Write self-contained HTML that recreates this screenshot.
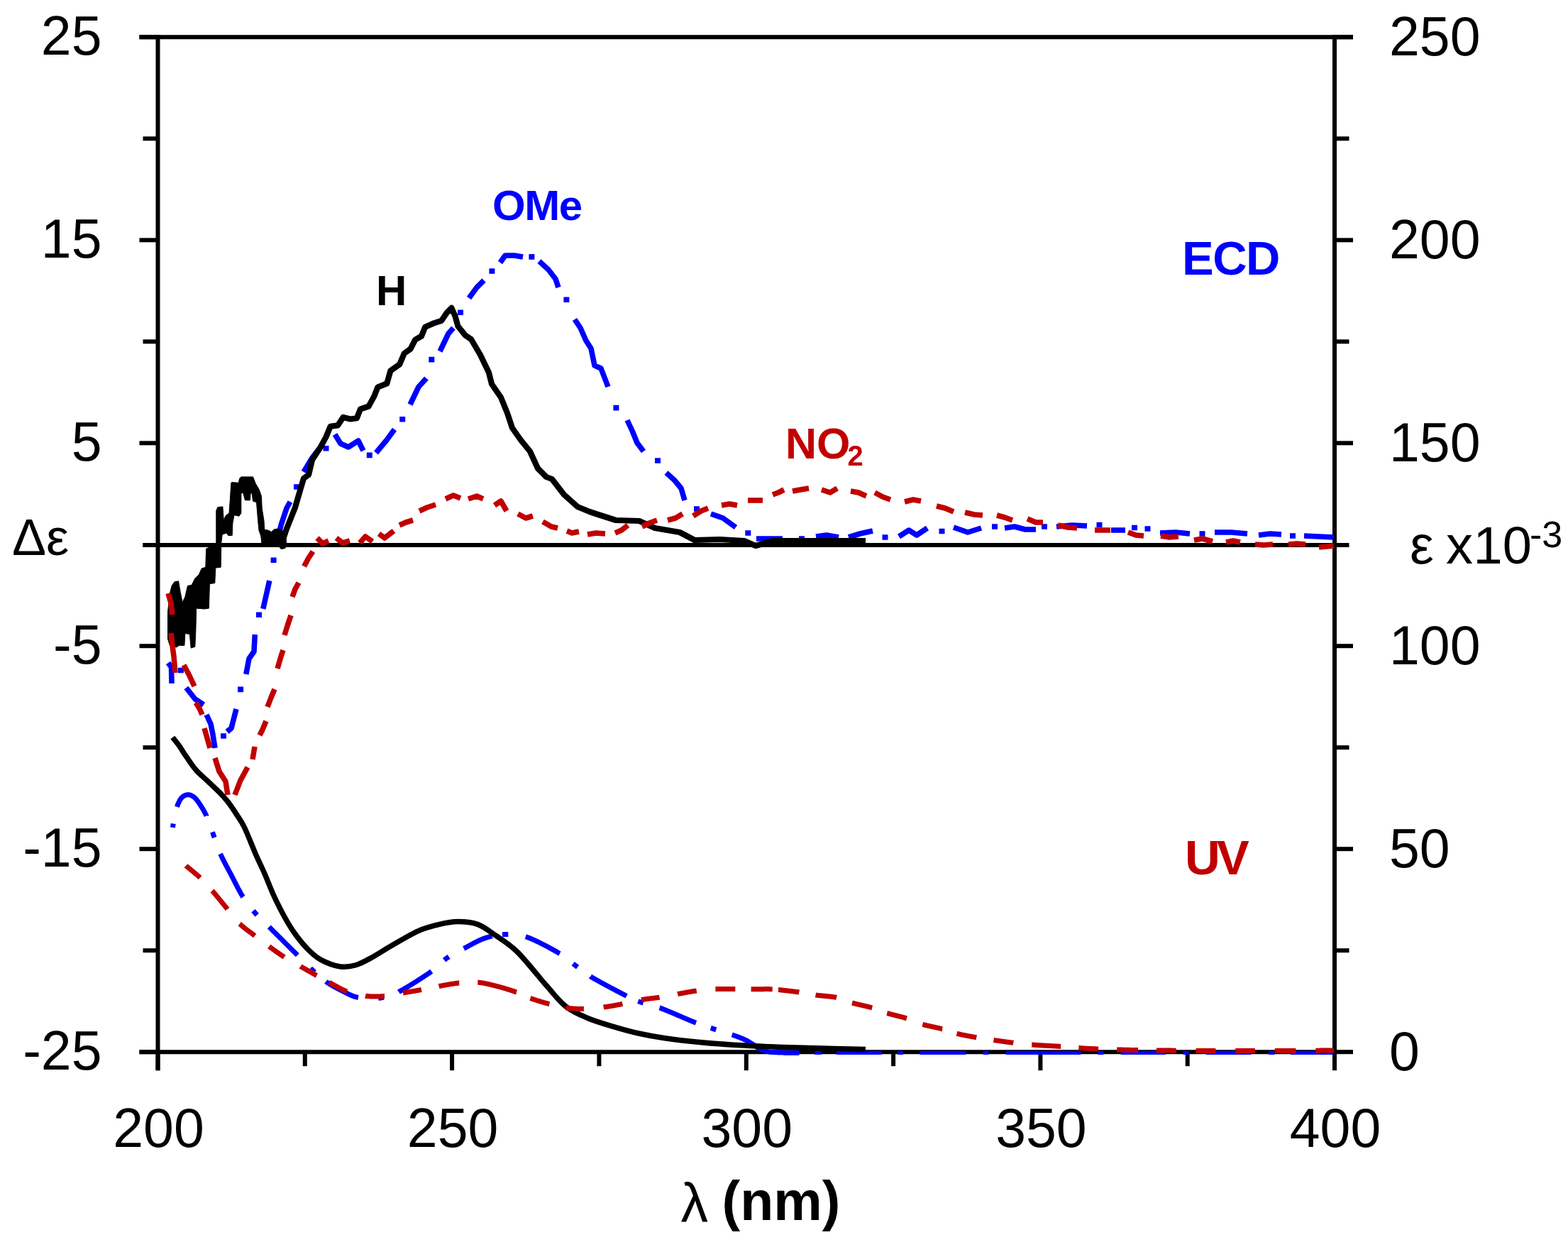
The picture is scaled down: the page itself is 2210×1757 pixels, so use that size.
<!DOCTYPE html>
<html><head><meta charset="utf-8"><style>
html,body{margin:0;padding:0;background:#fff;width:2210px;height:1757px;overflow:hidden}
svg{display:block;filter:blur(0.6px)}
</style></head><body>
<svg width="2210" height="1757" viewBox="0 0 2210 1757">
<rect width="2210" height="1757" fill="#fff"/>
<line x1="201.5" y1="768.0" x2="1881.0" y2="768.0" stroke="#000" stroke-width="5.9"/>
<line x1="222.5" y1="49.3" x2="222.5" y2="1508.2" stroke="#000" stroke-width="6.0"/>
<line x1="1881.0" y1="49.3" x2="1881.0" y2="1485.2" stroke="#000" stroke-width="6.0"/>
<line x1="196.5" y1="52.3" x2="1907.0" y2="52.3" stroke="#000" stroke-width="6.0"/>
<line x1="196.5" y1="1482.2" x2="1884.0" y2="1482.2" stroke="#000" stroke-width="6.0"/>
<line x1="196.5" y1="52.3" x2="222.5" y2="52.3" stroke="#000" stroke-width="6.0"/>
<line x1="1881.0" y1="52.3" x2="1907.0" y2="52.3" stroke="#000" stroke-width="6.0"/>
<line x1="201.5" y1="195.3" x2="222.5" y2="195.3" stroke="#000" stroke-width="6.0"/>
<line x1="1881.0" y1="195.3" x2="1901.5" y2="195.3" stroke="#000" stroke-width="6.0"/>
<line x1="196.5" y1="338.3" x2="222.5" y2="338.3" stroke="#000" stroke-width="6.0"/>
<line x1="1881.0" y1="338.3" x2="1907.0" y2="338.3" stroke="#000" stroke-width="6.0"/>
<line x1="201.5" y1="481.3" x2="222.5" y2="481.3" stroke="#000" stroke-width="6.0"/>
<line x1="1881.0" y1="481.3" x2="1901.5" y2="481.3" stroke="#000" stroke-width="6.0"/>
<line x1="196.5" y1="624.3" x2="222.5" y2="624.3" stroke="#000" stroke-width="6.0"/>
<line x1="1881.0" y1="624.3" x2="1907.0" y2="624.3" stroke="#000" stroke-width="6.0"/>
<line x1="201.5" y1="768.0" x2="222.5" y2="768.0" stroke="#000" stroke-width="6.0"/>
<line x1="1881.0" y1="768.0" x2="1901.5" y2="768.0" stroke="#000" stroke-width="6.0"/>
<line x1="196.5" y1="910.2" x2="222.5" y2="910.2" stroke="#000" stroke-width="6.0"/>
<line x1="1881.0" y1="910.2" x2="1907.0" y2="910.2" stroke="#000" stroke-width="6.0"/>
<line x1="201.5" y1="1053.2" x2="222.5" y2="1053.2" stroke="#000" stroke-width="6.0"/>
<line x1="1881.0" y1="1053.2" x2="1901.5" y2="1053.2" stroke="#000" stroke-width="6.0"/>
<line x1="196.5" y1="1196.2" x2="222.5" y2="1196.2" stroke="#000" stroke-width="6.0"/>
<line x1="1881.0" y1="1196.2" x2="1907.0" y2="1196.2" stroke="#000" stroke-width="6.0"/>
<line x1="201.5" y1="1339.2" x2="222.5" y2="1339.2" stroke="#000" stroke-width="6.0"/>
<line x1="1881.0" y1="1339.2" x2="1901.5" y2="1339.2" stroke="#000" stroke-width="6.0"/>
<line x1="196.5" y1="1482.2" x2="222.5" y2="1482.2" stroke="#000" stroke-width="6.0"/>
<line x1="1881.0" y1="1482.2" x2="1907.0" y2="1482.2" stroke="#000" stroke-width="6.0"/>
<line x1="222.5" y1="1482.2" x2="222.5" y2="1508.2" stroke="#000" stroke-width="6.0"/>
<line x1="429.8" y1="1482.2" x2="429.8" y2="1502.2" stroke="#000" stroke-width="6.0"/>
<line x1="637.1" y1="1482.2" x2="637.1" y2="1508.2" stroke="#000" stroke-width="6.0"/>
<line x1="844.4" y1="1482.2" x2="844.4" y2="1502.2" stroke="#000" stroke-width="6.0"/>
<line x1="1051.8" y1="1482.2" x2="1051.8" y2="1508.2" stroke="#000" stroke-width="6.0"/>
<line x1="1259.1" y1="1482.2" x2="1259.1" y2="1502.2" stroke="#000" stroke-width="6.0"/>
<line x1="1466.4" y1="1482.2" x2="1466.4" y2="1508.2" stroke="#000" stroke-width="6.0"/>
<line x1="1673.7" y1="1482.2" x2="1673.7" y2="1502.2" stroke="#000" stroke-width="6.0"/>
<line x1="1881.0" y1="1482.2" x2="1881.0" y2="1508.2" stroke="#000" stroke-width="6.0"/>
<path d="M243.4 1166.0 L243.6 1164.7 L244.2 1160.6 M249.5 1136.8 L249.6 1136.5 L249.7 1136.1 L249.9 1135.7 L250.0 1135.2 L250.2 1134.8 L250.3 1134.4 L250.5 1134.0 L250.7 1133.4 L251.0 1132.8 L251.2 1132.3 L251.4 1131.7 L251.7 1131.2 L251.9 1130.7 L252.1 1130.2 L252.4 1129.7 L252.6 1129.2 L252.8 1128.7 L253.1 1128.2 L253.3 1127.8 L253.6 1127.4 L253.8 1126.9 L254.1 1126.5 L254.4 1126.1 L254.6 1125.7 L254.9 1125.4 L255.2 1125.0 L255.4 1124.7 L255.7 1124.3 L256.0 1124.0 L256.4 1123.6 L256.8 1123.2 L257.2 1122.8 L257.6 1122.5 L258.1 1122.1 L258.5 1121.8 L259.0 1121.6 L259.4 1121.3 L259.9 1121.1 L260.3 1120.9 L260.8 1120.7 L261.2 1120.5 L261.7 1120.4 L262.1 1120.2 L262.6 1120.1 L263.0 1120.0 L263.5 1119.9 L264.0 1119.8 L264.5 1119.8 L265.0 1119.7 L265.5 1119.7 L265.9 1119.8 L266.4 1119.8 L266.9 1119.9 L267.4 1120.0 L267.9 1120.1 L268.4 1120.3 L268.9 1120.5 L269.5 1120.7 L270.0 1121.0 L270.4 1121.2 L270.7 1121.4 L271.1 1121.6 L271.4 1121.8 L271.7 1122.0 L272.1 1122.2 L272.4 1122.4 L272.8 1122.6 L273.1 1122.9 L273.5 1123.1 L273.8 1123.4 L274.2 1123.7 L274.6 1124.1 L275.0 1124.4 L275.3 1124.8 L275.8 1125.3 L276.2 1125.7 L276.6 1126.2 L277.1 1126.8 L277.5 1127.4 L278.0 1128.0 L278.2 1128.3 L278.4 1128.6 L278.7 1128.9 L278.9 1129.2 L279.1 1129.6 L279.4 1129.9 L279.6 1130.2 L279.9 1130.6 L280.1 1130.9 L280.4 1131.3 L280.6 1131.7 L280.9 1132.1 L281.2 1132.4 L281.4 1132.8 L281.7 1133.2 L282.0 1133.6 L282.2 1134.1 L282.5 1134.5 L282.8 1134.9 L283.1 1135.3 L283.3 1135.8 L283.6 1136.2 L283.9 1136.6 L284.2 1137.1 L284.5 1137.5 L284.7 1138.0 L285.0 1138.5 L285.3 1138.9 L285.6 1139.4 L285.9 1139.9 L286.1 1140.3 L286.4 1140.8 L286.7 1141.3 L287.0 1141.8 L287.3 1142.3 L287.5 1142.8 L287.8 1143.2 L288.1 1143.7 L288.3 1144.2 L288.6 1144.7 L288.9 1145.2 L289.1 1145.7 L289.4 1146.2 L289.6 1146.7 L289.9 1147.2 L290.1 1147.7 L290.4 1148.2 L290.6 1148.7 L290.8 1149.1 L291.0 1149.5 L291.0 1149.6 M299.4 1172.4 L300.8 1176.3 L302.1 1180.1 M310.6 1203.0 L310.6 1203.0 L310.8 1203.4 L311.0 1203.9 L311.2 1204.3 L311.4 1204.7 L311.6 1205.1 L311.8 1205.6 L312.0 1206.0 L312.2 1206.5 L312.4 1206.9 L312.6 1207.3 L312.8 1207.8 L313.0 1208.2 L313.2 1208.6 L313.5 1209.1 L313.7 1209.5 L313.9 1210.0 L314.1 1210.4 L314.3 1210.9 L314.6 1211.3 L314.8 1211.7 L315.0 1212.2 L315.2 1212.6 L315.5 1213.1 L315.7 1213.5 L315.9 1214.0 L316.2 1214.4 L316.4 1214.9 L316.6 1215.3 L316.9 1215.8 L317.1 1216.2 L317.3 1216.7 L317.6 1217.1 L317.8 1217.6 L318.0 1218.1 L318.3 1218.5 L318.5 1219.0 L318.8 1219.4 L319.0 1219.9 L319.2 1220.3 L319.5 1220.8 L319.7 1221.2 L320.0 1221.7 L320.2 1222.1 L320.5 1222.6 L320.7 1223.0 L320.9 1223.5 L321.2 1224.0 L321.4 1224.4 L321.7 1224.9 L321.9 1225.3 L322.2 1225.8 L322.4 1226.2 L322.6 1226.7 L322.9 1227.1 L323.1 1227.6 L323.4 1228.0 L323.6 1228.5 L323.9 1228.9 L324.1 1229.4 L324.3 1229.9 L324.6 1230.3 L324.8 1230.8 L325.1 1231.2 L325.3 1231.7 L325.5 1232.1 L325.8 1232.6 L326.0 1233.0 L326.2 1233.4 L326.5 1233.9 L326.7 1234.3 L326.9 1234.8 L327.2 1235.2 L327.4 1235.7 L327.6 1236.1 L327.8 1236.6 L328.1 1237.0 L328.3 1237.5 L328.5 1237.9 L328.8 1238.4 L329.0 1238.8 L329.2 1239.3 L329.5 1239.8 L329.7 1240.2 L329.9 1240.7 L330.2 1241.1 L330.4 1241.6 L330.6 1242.0 L330.9 1242.5 L331.1 1243.0 L331.3 1243.4 L331.6 1243.9 L331.8 1244.3 L332.0 1244.8 L332.3 1245.2 L332.5 1245.7 L332.7 1246.2 L333.0 1246.6 L333.2 1247.1 L333.4 1247.5 L333.7 1248.0 L333.9 1248.4 L334.1 1248.9 L334.4 1249.4 L334.6 1249.8 L334.8 1250.3 L335.1 1250.7 L335.3 1251.2 L335.5 1251.6 L335.8 1252.0 L336.0 1252.5 L336.2 1252.9 L336.5 1253.4 L336.7 1253.8 L337.0 1254.3 L337.2 1254.7 L337.4 1255.1 L337.7 1255.6 L337.9 1256.0 L338.1 1256.4 L338.4 1256.9 L338.6 1257.3 L338.9 1257.7 L339.1 1258.1 L339.3 1258.6 L339.6 1259.0 L339.8 1259.4 L340.1 1259.8 L340.3 1260.2 L340.5 1260.6 L340.8 1261.0 L341.0 1261.4 L341.3 1261.8 L341.5 1262.2 L341.8 1262.6 L342.0 1263.0 L342.3 1263.5 L342.6 1263.9 L342.6 1263.9 M356.9 1283.3 L359.6 1286.4 L362.3 1289.4 M379.2 1305.9 L379.2 1305.9 L379.5 1306.2 L379.7 1306.4 L380.0 1306.7 L380.3 1307.0 L380.6 1307.3 L380.9 1307.6 L381.2 1307.9 L381.5 1308.2 L381.8 1308.5 L382.1 1308.8 L382.4 1309.1 L382.7 1309.4 L383.0 1309.7 L383.3 1310.0 L383.7 1310.4 L384.0 1310.7 L384.3 1311.0 L384.7 1311.4 L385.0 1311.7 L385.4 1312.0 L385.7 1312.4 L386.0 1312.7 L386.4 1313.1 L386.7 1313.4 L387.1 1313.8 L387.5 1314.1 L387.8 1314.5 L388.2 1314.9 L388.6 1315.2 L388.9 1315.6 L389.3 1316.0 L389.7 1316.3 L390.0 1316.7 L390.4 1317.1 L390.8 1317.5 L391.2 1317.9 L391.6 1318.2 L392.0 1318.6 L392.3 1319.0 L392.7 1319.4 L393.1 1319.8 L393.5 1320.2 L393.9 1320.6 L394.3 1320.9 L394.7 1321.3 L395.1 1321.7 L395.5 1322.1 L395.9 1322.5 L396.3 1322.9 L396.7 1323.3 L397.1 1323.7 L397.5 1324.1 L397.9 1324.5 L398.3 1324.9 L398.7 1325.3 L399.1 1325.7 L399.4 1326.1 L399.8 1326.5 L400.2 1326.9 L400.6 1327.3 L401.0 1327.7 L401.4 1328.1 L401.8 1328.5 L402.2 1328.9 L402.6 1329.3 L403.0 1329.7 L403.4 1330.1 L403.8 1330.5 L404.2 1330.9 L404.6 1331.2 L405.0 1331.6 L405.4 1332.0 L405.8 1332.4 L406.2 1332.8 L406.5 1333.2 L406.9 1333.6 L407.3 1333.9 L407.7 1334.3 L408.1 1334.7 L408.5 1335.1 L408.8 1335.5 L409.2 1335.8 L409.6 1336.2 L409.9 1336.6 L410.3 1336.9 L410.7 1337.3 L411.0 1337.7 L411.4 1338.0 L411.8 1338.4 L412.1 1338.7 L412.5 1339.1 L412.8 1339.4 L413.1 1339.8 L413.5 1340.1 L413.8 1340.4 L414.2 1340.8 L414.5 1341.1 L414.8 1341.4 L415.2 1341.8 L415.5 1342.1 L415.8 1342.4 L416.1 1342.7 L416.4 1343.0 L416.7 1343.3 L417.0 1343.6 L417.3 1343.9 L417.6 1344.2 L417.9 1344.5 L418.2 1344.8 L418.5 1345.1 L418.8 1345.4 L419.0 1345.6 L419.3 1345.9 L419.3 1345.9 M437.6 1364.3 L440.4 1366.9 L443.5 1369.8 M459.3 1383.0 L459.3 1383.0 L459.7 1383.3 L460.1 1383.6 L460.5 1383.9 L461.0 1384.1 L461.4 1384.4 L461.8 1384.7 L462.2 1385.0 L462.6 1385.3 L463.1 1385.5 L463.5 1385.8 L463.9 1386.1 L464.3 1386.4 L464.8 1386.6 L465.2 1386.9 L465.6 1387.2 L466.1 1387.4 L466.5 1387.7 L466.9 1387.9 L467.4 1388.2 L467.8 1388.5 L468.3 1388.7 L468.7 1389.0 L469.1 1389.2 L469.6 1389.5 L470.0 1389.7 L470.5 1390.0 L470.9 1390.2 L471.3 1390.5 L471.8 1390.7 L472.2 1391.0 L472.7 1391.2 L473.1 1391.4 L473.6 1391.7 L474.0 1391.9 L474.5 1392.2 L474.9 1392.4 L475.4 1392.6 L475.8 1392.9 L476.2 1393.1 L476.7 1393.3 L477.1 1393.6 L477.6 1393.8 L478.0 1394.0 L478.5 1394.2 L478.9 1394.5 L479.4 1394.7 L479.8 1394.9 L480.2 1395.1 L480.7 1395.3 L481.1 1395.6 L481.6 1395.8 L482.0 1396.0 L482.5 1396.2 L482.9 1396.5 L483.4 1396.7 L483.8 1396.9 L484.3 1397.2 L484.7 1397.4 L485.2 1397.6 L485.6 1397.9 L486.1 1398.1 L486.5 1398.3 L487.0 1398.5 L487.4 1398.8 L487.9 1399.0 L488.3 1399.2 L488.7 1399.5 L489.2 1399.7 L489.6 1399.9 L490.1 1400.1 L490.5 1400.4 L490.9 1400.6 L491.4 1400.8 L491.8 1401.0 L492.3 1401.2 L492.7 1401.4 L493.2 1401.6 L493.6 1401.8 L494.1 1402.0 L494.5 1402.2 L495.0 1402.4 L495.5 1402.6 L495.9 1402.8 L496.4 1403.0 L496.8 1403.2 L497.3 1403.4 L497.8 1403.5 L498.3 1403.7 L498.8 1403.9 L499.3 1404.0 L499.8 1404.2 L500.3 1404.4 L500.8 1404.5 L501.3 1404.6 L501.8 1404.8 L502.3 1404.9 L502.8 1405.0 L503.4 1405.2 L503.9 1405.3 L504.4 1405.4 L505.0 1405.5 L505.0 1405.5 M533.2 1406.4 L536.8 1406.0 L540.9 1405.3 M561.9 1397.6 L562.2 1397.4 L562.5 1397.2 L562.9 1397.0 L563.2 1396.9 L563.6 1396.7 L563.9 1396.5 L564.3 1396.3 L564.7 1396.1 L565.0 1395.9 L565.4 1395.7 L565.8 1395.5 L566.2 1395.2 L566.6 1395.0 L567.0 1394.8 L567.4 1394.6 L567.8 1394.3 L568.2 1394.1 L568.6 1393.9 L569.0 1393.6 L569.4 1393.4 L569.9 1393.1 L570.3 1392.9 L570.7 1392.6 L571.2 1392.4 L571.6 1392.1 L572.0 1391.9 L572.5 1391.6 L572.9 1391.4 L573.4 1391.1 L573.8 1390.8 L574.3 1390.6 L574.7 1390.3 L575.2 1390.0 L575.6 1389.7 L576.1 1389.4 L576.6 1389.2 L577.0 1388.9 L577.5 1388.6 L578.0 1388.3 L578.4 1388.0 L578.9 1387.7 L579.4 1387.4 L579.9 1387.2 L580.3 1386.9 L580.8 1386.6 L581.3 1386.3 L581.8 1386.0 L582.2 1385.7 L582.7 1385.4 L583.2 1385.1 L583.7 1384.8 L584.2 1384.5 L584.6 1384.2 L585.1 1383.9 L585.6 1383.6 L586.1 1383.3 L586.6 1383.0 L587.0 1382.7 L587.5 1382.4 L588.0 1382.1 L588.5 1381.8 L589.0 1381.5 L589.4 1381.1 L589.9 1380.8 L590.4 1380.5 L590.8 1380.2 L591.3 1379.9 L591.8 1379.6 L592.3 1379.3 L592.7 1379.0 L593.2 1378.7 L593.6 1378.4 L594.1 1378.1 L594.6 1377.8 L595.0 1377.5 L595.5 1377.2 L595.9 1377.0 L596.4 1376.7 L596.8 1376.4 L597.2 1376.1 L597.7 1375.8 L598.1 1375.5 L598.6 1375.2 L599.0 1374.9 L599.4 1374.6 L599.8 1374.4 L600.2 1374.1 L600.7 1373.8 L601.1 1373.5 L601.5 1373.3 L601.9 1373.0 L602.3 1372.7 L602.7 1372.5 L603.1 1372.2 L603.4 1371.9 L603.8 1371.7 L604.2 1371.4 L604.6 1371.2 L604.9 1370.9 L605.3 1370.7 L605.7 1370.4 L606.0 1370.2 L606.4 1369.9 L606.7 1369.7 L607.0 1369.5 L607.4 1369.2 L607.7 1369.0 L608.0 1368.8 L608.3 1368.6 M626.1 1352.8 L629.6 1350.1 L632.7 1348.0 M653.7 1336.5 L653.7 1336.5 L654.1 1336.3 L654.5 1336.1 L654.9 1335.8 L655.4 1335.6 L655.8 1335.4 L656.2 1335.2 L656.6 1334.9 L657.1 1334.7 L657.5 1334.5 L657.9 1334.2 L658.4 1334.0 L658.8 1333.7 L659.2 1333.5 L659.7 1333.3 L660.1 1333.0 L660.6 1332.8 L661.0 1332.5 L661.5 1332.3 L661.9 1332.0 L662.4 1331.8 L662.8 1331.6 L663.3 1331.3 L663.7 1331.1 L664.2 1330.8 L664.6 1330.6 L665.1 1330.3 L665.5 1330.1 L666.0 1329.8 L666.4 1329.6 L666.9 1329.3 L667.4 1329.1 L667.8 1328.9 L668.3 1328.6 L668.7 1328.4 L669.2 1328.1 L669.7 1327.9 L670.1 1327.7 L670.6 1327.4 L671.1 1327.2 L671.5 1327.0 L672.0 1326.7 L672.5 1326.5 L672.9 1326.3 L673.4 1326.0 L673.8 1325.8 L674.3 1325.6 L674.8 1325.4 L675.2 1325.2 L675.7 1325.0 L676.2 1324.7 L676.6 1324.5 L677.1 1324.3 L677.5 1324.1 L678.0 1323.9 L678.5 1323.7 L678.9 1323.6 L679.4 1323.4 L679.8 1323.2 L680.3 1323.0 L680.7 1322.8 L681.2 1322.6 L681.6 1322.5 L682.1 1322.3 L682.6 1322.2 L683.0 1322.0 L683.5 1321.8 L684.0 1321.7 L684.5 1321.5 L685.0 1321.3 L685.5 1321.2 L686.0 1321.0 L686.4 1320.9 L686.9 1320.7 L687.4 1320.6 L687.9 1320.4 L688.4 1320.3 L688.9 1320.1 L689.4 1320.0 L689.9 1319.9 L690.4 1319.7 L690.9 1319.6 L691.3 1319.5 L691.8 1319.4 L692.3 1319.2 L692.8 1319.1 L693.3 1319.0 L693.6 1318.9 M708.0 1316.7 L712.2 1316.5 L716.3 1316.4 M740.8 1319.7 L741.1 1319.8 L741.7 1320.0 L742.3 1320.2 L742.7 1320.3 L743.1 1320.5 L743.4 1320.6 L743.8 1320.8 L744.2 1320.9 L744.6 1321.1 L745.0 1321.2 L745.4 1321.4 L745.8 1321.5 L746.3 1321.7 L746.7 1321.9 L747.1 1322.0 L747.5 1322.2 L748.0 1322.4 L748.4 1322.6 L748.8 1322.8 L749.3 1323.0 L749.7 1323.2 L750.2 1323.3 L750.6 1323.5 L751.1 1323.7 L751.5 1324.0 L752.0 1324.2 L752.5 1324.4 L752.9 1324.6 L753.4 1324.8 L753.9 1325.0 L754.4 1325.2 L754.8 1325.5 L755.3 1325.7 L755.8 1325.9 L756.3 1326.1 L756.7 1326.4 L757.2 1326.6 L757.7 1326.8 L758.2 1327.1 L758.7 1327.3 L759.2 1327.5 L759.7 1327.8 L760.2 1328.0 L760.7 1328.3 L761.2 1328.5 L761.6 1328.7 L762.1 1329.0 L762.6 1329.2 L763.1 1329.5 L763.6 1329.7 L764.1 1330.0 L764.6 1330.2 L765.1 1330.5 L765.6 1330.8 L766.1 1331.0 L766.6 1331.3 L767.1 1331.5 L767.6 1331.8 L768.1 1332.0 L768.6 1332.3 L769.1 1332.5 L769.5 1332.8 L770.0 1333.1 L770.5 1333.3 L771.0 1333.6 L771.5 1333.8 L772.0 1334.1 L772.4 1334.3 L772.9 1334.6 L773.4 1334.8 L773.9 1335.1 L774.3 1335.4 L774.8 1335.6 L775.3 1335.9 L775.8 1336.1 L776.2 1336.4 L776.7 1336.6 L777.1 1336.9 L777.6 1337.1 L778.0 1337.4 L778.5 1337.6 L778.9 1337.9 L779.4 1338.1 L779.8 1338.3 L780.2 1338.6 L780.7 1338.8 L781.1 1339.1 L781.5 1339.3 L781.9 1339.5 L782.4 1339.8 L782.8 1340.0 L783.2 1340.2 L783.6 1340.5 L784.0 1340.7 L784.4 1340.9 L784.7 1341.1 L785.1 1341.3 L785.5 1341.6 L785.9 1341.8 L786.2 1342.0 L786.6 1342.2 L787.0 1342.4 L787.3 1342.6 L787.7 1342.8 L788.0 1343.0 L788.6 1343.4 L789.0 1343.6 M807.7 1357.7 L811.2 1360.4 L814.1 1362.6 M832.2 1375.8 L832.3 1375.9 L833.0 1376.3 L833.3 1376.5 L833.7 1376.7 L834.0 1376.9 L834.3 1377.1 L834.7 1377.3 L835.0 1377.5 L835.4 1377.7 L835.8 1377.9 L836.1 1378.1 L836.5 1378.4 L836.9 1378.6 L837.3 1378.8 L837.7 1379.0 L838.1 1379.2 L838.5 1379.5 L838.9 1379.7 L839.3 1379.9 L839.7 1380.2 L840.1 1380.4 L840.6 1380.7 L841.0 1380.9 L841.4 1381.1 L841.9 1381.4 L842.3 1381.6 L842.8 1381.9 L843.2 1382.1 L843.7 1382.4 L844.1 1382.6 L844.6 1382.9 L845.0 1383.1 L845.5 1383.4 L846.0 1383.7 L846.5 1383.9 L846.9 1384.2 L847.4 1384.4 L847.9 1384.7 L848.4 1385.0 L848.9 1385.2 L849.3 1385.5 L849.8 1385.8 L850.3 1386.0 L850.8 1386.3 L851.3 1386.6 L851.8 1386.8 L852.3 1387.1 L852.8 1387.4 L853.3 1387.7 L853.8 1387.9 L854.3 1388.2 L854.8 1388.5 L855.3 1388.7 L855.8 1389.0 L856.3 1389.3 L856.8 1389.5 L857.3 1389.8 L857.8 1390.1 L858.3 1390.4 L858.9 1390.6 L859.4 1390.9 L859.9 1391.2 L860.4 1391.4 L860.9 1391.7 L861.4 1392.0 L861.9 1392.2 L862.4 1392.5 L862.9 1392.8 L863.4 1393.0 L863.9 1393.3 L864.4 1393.6 L864.9 1393.8 L865.3 1394.1 L865.8 1394.3 L866.3 1394.6 L866.8 1394.8 L867.3 1395.1 L867.8 1395.4 L868.2 1395.6 L868.7 1395.9 L869.2 1396.1 L869.7 1396.3 L870.1 1396.6 L870.6 1396.8 L871.1 1397.1 L871.5 1397.3 L872.0 1397.6 L872.4 1397.8 L872.9 1398.0 L873.3 1398.3 L873.8 1398.5 L874.2 1398.7 L874.6 1398.9 L875.0 1399.2 L875.5 1399.4 L875.9 1399.6 L876.3 1399.8 L876.7 1400.0 L877.1 1400.2 L877.5 1400.4 L877.9 1400.6 L878.3 1400.8 L878.7 1401.0 L879.1 1401.2 L879.4 1401.4 L879.8 1401.6 L880.2 1401.8 L880.5 1402.0 L880.9 1402.2 L881.2 1402.3 L881.5 1402.5 L881.9 1402.7 L882.2 1402.8 L882.5 1403.0 L883.2 1403.4 M899.3 1410.7 L903.0 1412.0 L906.7 1413.2 M929.6 1419.9 L930.0 1420.0 L930.4 1420.1 L930.7 1420.3 L931.1 1420.4 L931.5 1420.6 L931.8 1420.7 L932.2 1420.9 L932.6 1421.0 L933.0 1421.2 L933.4 1421.3 L933.8 1421.5 L934.2 1421.6 L934.7 1421.8 L935.1 1422.0 L935.5 1422.1 L935.9 1422.3 L936.4 1422.5 L936.8 1422.7 L937.3 1422.9 L937.7 1423.0 L938.2 1423.2 L938.6 1423.4 L939.1 1423.6 L939.6 1423.8 L940.0 1424.0 L940.5 1424.2 L941.0 1424.4 L941.4 1424.6 L941.9 1424.8 L942.4 1425.0 L942.9 1425.2 L943.4 1425.4 L943.9 1425.6 L944.4 1425.8 L944.9 1426.0 L945.4 1426.2 L945.9 1426.4 L946.4 1426.6 L946.9 1426.8 L947.4 1427.1 L947.9 1427.3 L948.4 1427.5 L948.9 1427.7 L949.4 1427.9 L949.9 1428.1 L950.5 1428.4 L951.0 1428.6 L951.5 1428.8 L952.0 1429.0 L952.5 1429.2 L953.1 1429.5 L953.6 1429.7 L954.1 1429.9 L954.6 1430.1 L955.1 1430.4 L955.7 1430.6 L956.2 1430.8 L956.7 1431.0 L957.2 1431.2 L957.7 1431.5 L958.3 1431.7 L958.8 1431.9 L959.3 1432.1 L959.8 1432.3 L960.3 1432.6 L960.8 1432.8 L961.4 1433.0 L961.9 1433.2 L962.4 1433.4 L962.9 1433.7 L963.4 1433.9 L963.9 1434.1 L964.4 1434.3 L964.9 1434.5 L965.4 1434.7 L965.9 1434.9 L966.4 1435.2 L966.9 1435.4 L967.4 1435.6 L967.9 1435.8 L968.4 1436.0 L968.8 1436.2 L969.3 1436.4 L969.8 1436.6 L970.3 1436.8 L970.7 1437.0 L971.2 1437.2 L971.7 1437.4 L972.1 1437.6 L972.6 1437.8 L973.0 1437.9 L973.5 1438.1 L973.9 1438.3 L974.3 1438.5 L974.8 1438.7 L975.2 1438.9 L975.6 1439.0 L976.0 1439.2 L976.5 1439.4 L976.9 1439.5 L977.3 1439.7 L977.7 1439.9 L978.1 1440.0 L978.4 1440.2 L978.8 1440.3 L979.2 1440.5 L979.6 1440.6 L979.9 1440.8 L980.3 1440.9 L980.7 1441.1 L981.0 1441.2 L981.0 1441.2 M1001.8 1448.4 L1005.5 1449.6 L1009.3 1450.8 M1031.7 1457.9 L1032.0 1458.0 L1032.6 1458.2 L1033.2 1458.4 L1033.7 1458.6 L1034.3 1458.8 L1034.8 1459.0 L1035.4 1459.2 L1035.9 1459.4 L1036.5 1459.6 L1037.0 1459.8 L1037.5 1459.9 L1038.0 1460.1 L1038.5 1460.3 L1039.0 1460.5 L1039.5 1460.7 L1040.0 1460.9 L1040.5 1461.0 L1041.0 1461.2 L1041.4 1461.4 L1041.9 1461.6 L1042.4 1461.8 L1042.8 1461.9 L1043.3 1462.1 L1043.7 1462.3 L1044.2 1462.5 L1044.6 1462.7 L1045.0 1462.8 L1045.5 1463.0 L1045.9 1463.2 L1046.3 1463.4 L1046.8 1463.6 L1047.2 1463.7 L1047.6 1463.9 L1048.0 1464.1 L1048.4 1464.3 L1048.8 1464.5 L1049.2 1464.6 L1049.6 1464.8 L1050.0 1465.0 L1050.5 1465.3 L1051.1 1465.5 L1051.6 1465.8 L1052.1 1466.0 L1052.6 1466.3 L1053.1 1466.5 L1053.5 1466.8 L1054.0 1467.1 L1054.4 1467.3 L1054.8 1467.6 L1055.3 1467.8 L1055.7 1468.1 L1056.1 1468.3 L1056.5 1468.6 L1056.9 1468.9 L1057.3 1469.1 L1057.7 1469.4 L1058.1 1469.6 L1058.6 1469.9 L1059.0 1470.1 L1059.4 1470.4 L1059.8 1470.7 L1060.2 1470.9 L1060.7 1471.2 L1061.1 1471.5 L1061.5 1471.7 L1062.0 1472.0 L1062.4 1472.2 L1062.8 1472.5 L1063.2 1472.7 L1063.6 1473.0 L1064.0 1473.3 L1064.3 1473.5 L1064.7 1473.8 L1065.1 1474.1 L1065.4 1474.3 L1065.8 1474.6 L1066.2 1474.9 L1066.6 1475.2 L1066.9 1475.4 L1067.3 1475.7 L1067.7 1476.0 L1068.1 1476.2 L1068.5 1476.5 L1068.9 1476.8 L1069.3 1477.0 L1069.7 1477.3 L1070.2 1477.5 L1070.6 1477.8 L1071.1 1478.0 L1071.6 1478.2 L1072.1 1478.5 L1072.7 1478.7 L1073.2 1478.9 L1073.8 1479.1 L1074.4 1479.3 L1075.0 1479.5 L1075.4 1479.6 L1075.7 1479.7 L1076.1 1479.8 L1076.4 1479.9 L1076.7 1480.0 L1077.0 1480.1 L1077.2 1480.2 L1077.5 1480.3 L1077.8 1480.4 L1078.0 1480.5 L1078.3 1480.6 L1078.5 1480.7 L1078.8 1480.8 L1079.0 1480.9 L1079.3 1480.9 L1079.5 1481.0 L1079.8 1481.1 L1080.0 1481.2 L1080.3 1481.3 L1080.5 1481.3 L1080.8 1481.4 L1081.1 1481.5 L1081.4 1481.6 L1081.7 1481.6 L1082.1 1481.7 L1082.4 1481.8 L1082.8 1481.8 L1083.2 1481.9 L1083.6 1482.0 L1084.0 1482.0 L1084.5 1482.1 L1085.0 1482.1 L1085.5 1482.2 L1086.0 1482.2 L1086.6 1482.3 L1087.2 1482.4 L1087.9 1482.4 L1088.5 1482.5 L1089.3 1482.5 L1090.0 1482.6 L1090.8 1482.6 L1091.6 1482.7 L1092.5 1482.7 L1093.4 1482.7 L1094.4 1482.8 L1095.4 1482.8 L1096.5 1482.9 L1097.6 1482.9 L1098.8 1483.0 L1100.0 1483.0 L1100.3 1483.0 L1100.6 1483.0 L1100.9 1483.0 L1101.2 1483.0 L1101.4 1483.0 L1101.7 1483.1 L1101.9 1483.1 L1102.2 1483.1 L1102.4 1483.1 L1102.6 1483.1 L1102.8 1483.1 L1103.0 1483.1 L1103.2 1483.1 L1103.4 1483.1 L1103.6 1483.1 L1103.8 1483.1 L1103.9 1483.1 L1104.1 1483.2 L1104.2 1483.2 L1104.4 1483.2 L1104.5 1483.2 L1104.6 1483.2 L1104.7 1483.2 L1104.8 1483.2 L1104.9 1483.2 L1105.0 1483.2 L1105.1 1483.2 L1105.2 1483.2 L1105.3 1483.2 L1105.4 1483.2 L1105.5 1483.2 L1105.5 1483.2 L1105.6 1483.2 L1105.7 1483.3 L1105.7 1483.3 L1105.8 1483.3 L1105.8 1483.3 L1105.8 1483.3 L1105.9 1483.3 L1105.9 1483.3 L1106.0 1483.3 L1106.0 1483.3 L1106.0 1483.3 L1106.0 1483.3 L1106.1 1483.3 L1106.1 1483.3 L1106.1 1483.3 L1106.1 1483.3 L1106.1 1483.3 L1106.1 1483.3 L1106.1 1483.3 L1106.2 1483.3 L1106.2 1483.3 L1106.2 1483.3 L1106.2 1483.3 L1106.2 1483.3 L1106.2 1483.4 L1106.2 1483.4 L1106.2 1483.4 L1106.2 1483.4 L1106.2 1483.4 L1106.2 1483.4 L1106.2 1483.4 L1106.3 1483.4 L1106.3 1483.4 L1106.3 1483.4 L1106.3 1483.4 L1106.3 1483.4 L1106.3 1483.4 L1106.4 1483.4 L1106.4 1483.4 L1106.4 1483.4 L1106.4 1483.4 L1106.5 1483.4 L1106.5 1483.4 L1106.6 1483.4 L1106.6 1483.4 L1106.7 1483.4 L1106.7 1483.4 L1106.8 1483.4 L1106.8 1483.4 L1106.9 1483.4 L1107.0 1483.4 L1107.0 1483.4 L1107.1 1483.4 L1107.2 1483.4 L1107.3 1483.4 L1107.4 1483.4 L1107.5 1483.4 L1107.6 1483.4 L1107.7 1483.4 L1107.8 1483.4 L1108.0 1483.4 L1108.1 1483.4 L1108.2 1483.4 L1108.4 1483.4 L1108.5 1483.4 L1108.7 1483.4 L1108.9 1483.4 L1109.1 1483.4 L1109.3 1483.4 L1109.4 1483.4 L1109.7 1483.4 L1109.9 1483.4 L1110.1 1483.4 L1110.3 1483.4 L1110.6 1483.4 L1110.8 1483.4 L1111.1 1483.4 L1111.3 1483.4 L1111.6 1483.4 L1111.9 1483.4 L1112.2 1483.4 L1112.5 1483.4 L1112.9 1483.4 L1113.2 1483.4 L1113.5 1483.4 L1113.9 1483.4 L1114.3 1483.4 L1114.6 1483.4 L1115.0 1483.4 L1115.4 1483.4 L1115.9 1483.4 L1116.3 1483.4 L1116.7 1483.4 L1117.2 1483.4 L1117.6 1483.4 L1118.1 1483.4 L1118.6 1483.4 L1119.1 1483.4 L1119.7 1483.4 L1120.2 1483.4 L1120.7 1483.4 L1121.3 1483.4 L1121.9 1483.4 L1122.5 1483.4 L1123.1 1483.4 L1123.7 1483.4 L1124.4 1483.4 L1125.0 1483.4 L1125.7 1483.4 L1126.4 1483.4 L1126.5 1483.4" fill="none" stroke="#0000ff" stroke-width="7" stroke-linejoin="round" stroke-linecap="butt"/>
<path d="M1148.1 1483.4 L1153.2 1483.4 L1157.9 1483.4 M1178.7 1483.4 L1180.1 1483.4 L1181.8 1483.4 L1183.5 1483.4 L1185.3 1483.4 L1187.0 1483.4 L1188.8 1483.4 L1190.6 1483.4 L1192.4 1483.4 L1194.3 1483.4 L1196.2 1483.4 L1198.1 1483.4 L1200.0 1483.4 L1200.3 1483.4 L1200.6 1483.4 L1200.9 1483.4 L1201.2 1483.4 L1201.4 1483.4 L1201.7 1483.4 L1202.0 1483.4 L1202.3 1483.4 L1202.6 1483.4 L1202.9 1483.4 L1203.2 1483.4 L1203.5 1483.4 L1203.8 1483.4 L1204.1 1483.4 L1204.4 1483.4 L1204.7 1483.4 L1205.0 1483.4 L1205.3 1483.4 L1205.6 1483.4 L1205.9 1483.4 L1206.2 1483.4 L1206.5 1483.4 L1206.9 1483.4 L1207.2 1483.4 L1207.5 1483.4 L1207.8 1483.4 L1208.1 1483.4 L1208.4 1483.4 L1208.7 1483.4 L1209.0 1483.4 L1209.4 1483.4 L1209.7 1483.4 L1210.0 1483.4 L1210.3 1483.4 L1210.6 1483.4 L1211.0 1483.4 L1211.3 1483.4 L1211.6 1483.4 L1211.9 1483.4 L1212.3 1483.4 L1212.6 1483.4 L1212.9 1483.4 L1213.2 1483.4 L1213.6 1483.4 L1213.9 1483.4 L1214.2 1483.4 L1214.6 1483.4 L1214.9 1483.4 L1215.2 1483.4 L1215.6 1483.4 L1215.9 1483.4 L1216.2 1483.4 L1216.6 1483.4 L1216.9 1483.4 L1217.2 1483.4 L1217.6 1483.4 L1217.9 1483.4 L1218.3 1483.4 L1218.6 1483.4 L1218.9 1483.4 L1219.3 1483.4 L1219.6 1483.4 L1220.0 1483.4 L1220.3 1483.4 L1220.7 1483.4 L1221.0 1483.4 L1221.4 1483.4 L1221.7 1483.4 L1222.1 1483.4 L1222.4 1483.4 L1222.8 1483.4 L1223.1 1483.4 L1223.5 1483.4 L1223.8 1483.4 L1224.2 1483.4 L1224.6 1483.4 L1224.9 1483.4 L1225.3 1483.4 L1225.6 1483.4 L1226.0 1483.4 L1226.4 1483.4 L1226.7 1483.4 L1227.1 1483.4 L1227.4 1483.4 L1227.8 1483.4 L1228.2 1483.4 L1228.5 1483.4 L1228.9 1483.4 L1229.3 1483.4 L1229.7 1483.4 L1230.0 1483.4 L1230.4 1483.4 L1230.8 1483.4 L1231.1 1483.4 L1231.5 1483.4 L1231.9 1483.4 L1232.3 1483.4 L1232.6 1483.4 L1233.0 1483.4 L1233.4 1483.4 L1233.8 1483.4 L1234.2 1483.4 L1234.5 1483.4 L1234.9 1483.4 L1235.3 1483.4 L1235.7 1483.4 L1236.1 1483.4 L1236.5 1483.4 L1236.8 1483.4 L1237.2 1483.4 L1237.6 1483.4 L1238.0 1483.4 L1238.4 1483.4 L1238.8 1483.4 L1239.2 1483.4 L1239.6 1483.4 L1240.0 1483.4 L1240.4 1483.4 L1240.7 1483.4 L1241.1 1483.4 L1241.5 1483.4 L1241.9 1483.4 L1242.3 1483.4 L1242.5 1483.4 M1265.0 1483.4 L1269.0 1483.4 L1273.0 1483.4 M1296.3 1483.4 L1296.4 1483.4 L1296.9 1483.4 L1297.4 1483.4 L1297.9 1483.4 L1298.4 1483.4 L1298.9 1483.4 L1299.4 1483.4 L1299.8 1483.4 L1300.3 1483.4 L1300.8 1483.4 L1301.3 1483.4 L1301.8 1483.4 L1302.3 1483.4 L1302.8 1483.4 L1303.3 1483.4 L1303.8 1483.4 L1304.3 1483.4 L1304.8 1483.4 L1305.3 1483.4 L1305.8 1483.4 L1306.3 1483.4 L1306.8 1483.4 L1307.3 1483.4 L1307.8 1483.4 L1308.3 1483.4 L1308.8 1483.4 L1309.3 1483.4 L1309.8 1483.4 L1310.3 1483.4 L1310.8 1483.4 L1311.3 1483.4 L1311.8 1483.4 L1312.3 1483.4 L1312.8 1483.4 L1313.3 1483.4 L1313.8 1483.4 L1314.3 1483.4 L1314.8 1483.4 L1315.3 1483.4 L1315.8 1483.4 L1316.3 1483.4 L1316.8 1483.4 L1317.4 1483.4 L1317.9 1483.4 L1318.4 1483.4 L1318.9 1483.4 L1319.4 1483.4 L1319.9 1483.4 L1320.4 1483.4 L1320.9 1483.4 L1321.5 1483.4 L1322.0 1483.4 L1322.5 1483.4 L1323.0 1483.4 L1323.5 1483.4 L1324.0 1483.4 L1324.6 1483.4 L1325.1 1483.4 L1325.6 1483.4 L1326.1 1483.4 L1326.6 1483.4 L1327.1 1483.4 L1327.7 1483.4 L1328.2 1483.4 L1328.7 1483.4 L1329.2 1483.4 L1329.8 1483.4 L1330.3 1483.4 L1330.8 1483.4 L1331.3 1483.4 L1331.9 1483.4 L1332.4 1483.4 L1332.9 1483.4 L1333.4 1483.4 L1334.0 1483.4 L1334.5 1483.4 L1335.0 1483.4 L1335.5 1483.4 L1336.1 1483.4 L1336.6 1483.4 L1337.1 1483.4 L1337.7 1483.4 L1338.2 1483.4 L1338.7 1483.4 L1339.3 1483.4 L1339.8 1483.4 L1340.3 1483.4 L1340.9 1483.4 L1341.4 1483.4 L1341.9 1483.4 L1342.5 1483.4 L1343.0 1483.4 L1343.5 1483.4 L1344.1 1483.4 L1344.6 1483.4 L1345.2 1483.4 L1345.7 1483.4 L1346.2 1483.4 L1346.8 1483.4 L1347.3 1483.4 L1347.9 1483.4 L1348.4 1483.4 L1348.9 1483.4 L1349.5 1483.4 L1350.0 1483.4 L1350.6 1483.4 L1351.1 1483.4 L1351.6 1483.4 L1352.2 1483.4 L1352.7 1483.4 L1353.3 1483.4 L1353.8 1483.4 L1354.4 1483.4 L1354.9 1483.4 L1355.5 1483.4 L1356.0 1483.4 L1356.6 1483.4 L1357.1 1483.4 L1357.7 1483.4 L1358.2 1483.4 L1358.8 1483.4 L1359.3 1483.4 L1359.9 1483.4 L1360.4 1483.4 L1361.0 1483.4 L1361.5 1483.4 L1361.6 1483.4 M1385.6 1483.4 L1389.8 1483.4 L1393.6 1483.4 M1418.0 1483.4 L1418.1 1483.4 L1418.7 1483.4 L1419.2 1483.4 L1419.8 1483.4 L1420.4 1483.4 L1421.0 1483.4 L1421.6 1483.4 L1422.2 1483.4 L1422.8 1483.4 L1423.4 1483.4 L1424.0 1483.4 L1424.6 1483.4 L1425.1 1483.4 L1425.7 1483.4 L1426.3 1483.4 L1426.9 1483.4 L1427.5 1483.4 L1428.1 1483.4 L1428.7 1483.4 L1429.3 1483.4 L1429.9 1483.4 L1430.5 1483.4 L1431.1 1483.4 L1431.7 1483.4 L1432.3 1483.4 L1432.9 1483.4 L1433.4 1483.4 L1434.0 1483.4 L1434.6 1483.4 L1435.2 1483.4 L1435.8 1483.4 L1436.4 1483.4 L1437.0 1483.4 L1437.6 1483.4 L1438.2 1483.4 L1438.8 1483.4 L1439.4 1483.4 L1440.0 1483.4 L1440.6 1483.4 L1441.2 1483.4 L1441.8 1483.4 L1442.4 1483.4 L1443.0 1483.4 L1443.6 1483.4 L1444.2 1483.4 L1444.8 1483.4 L1445.4 1483.4 L1446.0 1483.4 L1446.6 1483.4 L1447.2 1483.4 L1447.8 1483.4 L1448.4 1483.4 L1449.0 1483.4 L1449.6 1483.4 L1450.2 1483.4 L1450.8 1483.4 L1451.4 1483.4 L1452.0 1483.4 L1452.6 1483.4 L1453.2 1483.4 L1453.8 1483.4 L1454.4 1483.4 L1455.0 1483.4 L1455.6 1483.4 L1456.2 1483.4 L1456.8 1483.4 L1457.4 1483.4 L1458.0 1483.4 L1458.6 1483.4 L1459.2 1483.4 L1459.9 1483.4 L1460.5 1483.4 L1461.1 1483.4 L1461.7 1483.4 L1462.3 1483.4 L1462.9 1483.4 L1463.5 1483.4 L1464.1 1483.4 L1464.7 1483.4 L1465.3 1483.4 L1465.9 1483.4 L1466.5 1483.4 L1467.1 1483.4 L1467.7 1483.4 L1468.3 1483.4 L1468.9 1483.4 L1469.6 1483.4 L1470.2 1483.4 L1470.8 1483.4 L1471.4 1483.4 L1472.0 1483.4 L1472.6 1483.4 L1473.2 1483.4 L1473.8 1483.4 L1474.4 1483.4 L1475.0 1483.4 L1475.6 1483.4 L1476.2 1483.4 L1476.9 1483.4 L1477.5 1483.4 L1478.1 1483.4 L1478.7 1483.4 L1479.3 1483.4 L1479.9 1483.4 L1480.5 1483.4 L1481.1 1483.4 L1481.7 1483.4 L1482.3 1483.4 L1483.0 1483.4 L1483.6 1483.4 L1484.2 1483.4 L1484.8 1483.4 L1485.4 1483.4 L1486.0 1483.4 L1486.6 1483.4 L1487.2 1483.4 L1487.8 1483.4 L1488.5 1483.4 L1489.1 1483.4 L1489.7 1483.4 L1490.3 1483.4 L1490.9 1483.4 L1491.5 1483.4 L1492.1 1483.4 L1492.7 1483.4 L1493.3 1483.4 L1494.0 1483.4 L1494.6 1483.4 L1495.2 1483.4 L1495.8 1483.4 L1496.4 1483.4 L1497.0 1483.4 L1497.6 1483.4 L1498.3 1483.4 L1498.9 1483.4 L1499.5 1483.4 L1500.1 1483.4 L1500.7 1483.4 L1501.3 1483.4 L1501.9 1483.4 L1502.5 1483.4 L1503.2 1483.4 L1503.8 1483.4 L1504.4 1483.4 L1505.0 1483.4 L1505.6 1483.4 L1506.2 1483.4 L1506.8 1483.4 L1507.5 1483.4 L1508.1 1483.4 L1508.7 1483.4 L1509.3 1483.4 L1509.9 1483.4 L1510.5 1483.4 L1511.2 1483.4 L1511.8 1483.4 L1512.4 1483.4 L1513.0 1483.4 L1513.6 1483.4 L1514.2 1483.4 L1514.8 1483.4 L1515.5 1483.4 L1516.1 1483.4 L1516.7 1483.4 L1517.3 1483.4 L1517.9 1483.4 L1518.5 1483.4 L1519.1 1483.4 L1519.8 1483.4 L1520.4 1483.4 L1521.0 1483.4 L1521.6 1483.4 L1522.2 1483.4 L1522.8 1483.4 L1523.4 1483.4 M1546.9 1483.4 L1551.0 1483.4 L1555.5 1483.4 M1579.8 1483.4 L1580.0 1483.4 L1580.6 1483.4 L1581.3 1483.4 L1581.9 1483.4 L1582.5 1483.4 L1583.1 1483.4 L1583.7 1483.4 L1584.3 1483.4 L1584.9 1483.4 L1585.5 1483.4 L1586.2 1483.4 L1586.8 1483.4 L1587.4 1483.4 L1588.0 1483.4 L1588.6 1483.4 L1589.2 1483.4 L1589.8 1483.4 L1590.4 1483.4 L1591.0 1483.4 L1591.6 1483.4 L1592.3 1483.4 L1592.9 1483.4 L1593.5 1483.4 L1594.1 1483.4 L1594.7 1483.4 L1595.3 1483.4 L1595.9 1483.4 L1596.5 1483.4 L1597.1 1483.4 L1597.7 1483.4 L1598.3 1483.4 L1599.0 1483.4 L1599.6 1483.4 L1600.2 1483.4 L1600.8 1483.4 L1601.4 1483.4 L1602.0 1483.4 L1602.6 1483.4 L1603.2 1483.4 L1603.8 1483.4 L1604.4 1483.4 L1605.0 1483.4 L1605.6 1483.4 L1606.2 1483.4 L1606.8 1483.4 L1607.4 1483.4 L1608.1 1483.4 L1608.7 1483.4 L1609.3 1483.4 L1609.9 1483.4 L1610.5 1483.4 L1611.1 1483.4 L1611.7 1483.4 L1612.3 1483.4 L1612.9 1483.4 L1613.5 1483.4 L1614.1 1483.4 L1614.7 1483.4 L1615.3 1483.4 L1615.9 1483.4 L1616.5 1483.4 L1617.1 1483.4 L1617.7 1483.4 L1618.3 1483.4 L1618.9 1483.4 L1619.5 1483.4 L1620.1 1483.4 L1620.7 1483.4 L1621.3 1483.4 L1621.9 1483.4 L1622.5 1483.4 L1623.1 1483.4 L1623.7 1483.4 L1624.3 1483.4 L1624.9 1483.4 L1625.5 1483.4 L1626.1 1483.4 L1626.7 1483.4 L1627.3 1483.4 L1627.9 1483.4 L1628.5 1483.4 L1629.1 1483.4 L1629.7 1483.4 L1630.3 1483.4 L1630.9 1483.4 L1631.5 1483.4 L1632.1 1483.4 L1632.7 1483.4 L1633.3 1483.4 L1633.9 1483.4 L1634.5 1483.4 L1635.1 1483.4 L1635.7 1483.4 L1636.3 1483.4 L1636.9 1483.4 L1637.5 1483.4 L1638.1 1483.4 L1638.7 1483.4 L1639.3 1483.4 L1639.8 1483.4 L1640.4 1483.4 L1641.0 1483.4 L1641.6 1483.4 L1642.2 1483.4 L1642.8 1483.4 L1642.9 1483.4 M1667.4 1483.4 L1671.5 1483.4 L1675.5 1483.4 M1700.0 1483.4 L1700.5 1483.4 L1701.0 1483.4 L1701.6 1483.4 L1702.2 1483.4 L1702.7 1483.4 L1703.3 1483.4 L1703.8 1483.4 L1704.4 1483.4 L1704.9 1483.4 L1705.5 1483.4 L1706.0 1483.4 L1706.6 1483.4 L1707.2 1483.4 L1707.7 1483.4 L1708.3 1483.4 L1708.8 1483.4 L1709.4 1483.4 L1709.9 1483.4 L1710.5 1483.4 L1711.0 1483.4 L1711.6 1483.4 L1712.1 1483.4 L1712.7 1483.4 L1713.2 1483.4 L1713.8 1483.4 L1714.3 1483.4 L1714.9 1483.4 L1715.4 1483.4 L1716.0 1483.4 L1716.5 1483.4 L1717.0 1483.4 L1717.6 1483.4 L1718.1 1483.4 L1718.7 1483.4 L1719.2 1483.4 L1719.8 1483.4 L1720.3 1483.4 L1720.8 1483.4 L1721.4 1483.4 L1721.9 1483.4 L1722.5 1483.4 L1723.0 1483.4 L1723.6 1483.4 L1724.1 1483.4 L1724.6 1483.4 L1725.2 1483.4 L1725.7 1483.4 L1726.2 1483.4 L1726.8 1483.4 L1727.3 1483.4 L1727.9 1483.4 L1728.4 1483.4 L1728.9 1483.4 L1729.5 1483.4 L1730.0 1483.4 L1730.5 1483.4 L1731.1 1483.4 L1731.6 1483.4 L1732.1 1483.4 L1732.7 1483.4 L1733.2 1483.4 L1733.7 1483.4 L1734.2 1483.4 L1734.8 1483.4 L1735.3 1483.4 L1735.8 1483.4 L1736.4 1483.4 L1736.9 1483.4 L1737.4 1483.4 L1737.9 1483.4 L1738.5 1483.4 L1739.0 1483.4 L1739.5 1483.4 L1740.0 1483.4 L1740.6 1483.4 L1741.1 1483.4 L1741.6 1483.4 L1742.1 1483.4 L1742.7 1483.4 L1743.2 1483.4 L1743.7 1483.4 L1744.2 1483.4 L1744.7 1483.4 L1745.3 1483.4 L1745.8 1483.4 L1746.3 1483.4 L1746.8 1483.4 L1747.3 1483.4 L1747.8 1483.4 L1748.4 1483.4 L1748.9 1483.4 L1749.4 1483.4 L1749.9 1483.4 L1750.4 1483.4 L1750.9 1483.4 L1751.4 1483.4 L1752.0 1483.4 L1752.5 1483.4 L1753.0 1483.4 L1753.5 1483.4 L1754.0 1483.4 L1754.5 1483.4 L1755.0 1483.4 L1755.5 1483.4 L1756.0 1483.4 L1756.5 1483.4 L1757.0 1483.4 L1757.5 1483.4 L1758.1 1483.4 L1758.6 1483.4 L1759.1 1483.4 L1759.6 1483.4 L1760.1 1483.4 L1760.6 1483.4 L1761.1 1483.4 L1761.6 1483.4 L1762.1 1483.4 L1762.6 1483.4 L1763.1 1483.4 L1763.5 1483.4 M1788.2 1483.4 L1792.3 1483.4 L1796.4 1483.4 M1819.0 1483.4 L1819.1 1483.4 L1819.5 1483.4 L1819.9 1483.4 L1820.3 1483.4 L1820.7 1483.4 L1821.1 1483.4 L1821.5 1483.4 L1821.9 1483.4 L1822.4 1483.4 L1822.8 1483.4 L1823.2 1483.4 L1823.6 1483.4 L1824.0 1483.4 L1824.4 1483.4 L1824.8 1483.4 L1825.2 1483.4 L1825.6 1483.4 L1826.0 1483.4 L1826.4 1483.4 L1826.8 1483.4 L1827.2 1483.4 L1827.6 1483.4 L1828.0 1483.4 L1828.4 1483.4 L1828.8 1483.4 L1829.2 1483.4 L1829.6 1483.4 L1830.0 1483.4 L1830.4 1483.4 L1830.8 1483.4 L1831.2 1483.4 L1831.5 1483.4 L1831.9 1483.4 L1832.3 1483.4 L1832.7 1483.4 L1833.1 1483.4 L1833.5 1483.4 L1833.9 1483.4 L1834.3 1483.4 L1834.6 1483.4 L1835.0 1483.4 L1835.4 1483.4 L1835.8 1483.4 L1836.2 1483.4 L1836.6 1483.4 L1836.9 1483.4 L1837.3 1483.4 L1837.7 1483.4 L1838.1 1483.4 L1838.4 1483.4 L1838.8 1483.4 L1839.2 1483.4 L1839.6 1483.4 L1839.9 1483.4 L1840.3 1483.4 L1840.7 1483.4 L1841.0 1483.4 L1841.4 1483.4 L1841.8 1483.4 L1842.1 1483.4 L1842.5 1483.4 L1842.9 1483.4 L1843.2 1483.4 L1843.6 1483.4 L1844.0 1483.4 L1844.3 1483.4 L1844.7 1483.4 L1845.1 1483.4 L1845.4 1483.4 L1845.8 1483.4 L1846.1 1483.4 L1846.5 1483.4 L1846.8 1483.4 L1847.2 1483.4 L1847.6 1483.4 L1847.9 1483.4 L1848.3 1483.4 L1848.6 1483.4 L1849.0 1483.4 L1849.3 1483.4 L1849.7 1483.4 L1850.0 1483.4 L1850.4 1483.4 L1850.7 1483.4 L1851.0 1483.4 L1851.4 1483.4 L1851.7 1483.4 L1852.1 1483.4 L1852.4 1483.4 L1852.8 1483.4 L1853.1 1483.4 L1853.4 1483.4 L1853.8 1483.4 L1854.1 1483.4 L1854.4 1483.4 L1854.8 1483.4 L1855.1 1483.4 L1855.4 1483.4 L1855.8 1483.4 L1856.1 1483.4 L1856.4 1483.4 L1856.8 1483.4 L1857.1 1483.4 L1857.4 1483.4 L1857.8 1483.4 L1858.1 1483.4 L1858.4 1483.4 L1858.7 1483.4 L1859.1 1483.4 L1859.4 1483.4 L1859.7 1483.4 L1860.0 1483.4 L1860.3 1483.4 L1860.7 1483.4 L1861.0 1483.4 L1861.3 1483.4 L1861.6 1483.4 L1861.9 1483.4 L1862.2 1483.4 L1862.5 1483.4 L1862.9 1483.4 L1863.2 1483.4 L1863.5 1483.4 L1863.8 1483.4 L1864.1 1483.4 L1864.4 1483.4 L1864.7 1483.4 L1865.0 1483.4 L1865.3 1483.4 L1865.6 1483.4 L1865.9 1483.4 L1866.2 1483.4 L1866.5 1483.4 L1866.8 1483.4 L1867.1 1483.4 L1867.4 1483.4 L1867.7 1483.4 L1868.0 1483.4 L1868.3 1483.4 L1868.6 1483.4 L1868.9 1483.4 L1869.2 1483.4 L1869.5 1483.4 L1869.8 1483.4 L1870.0 1483.4 L1870.3 1483.4 L1870.6 1483.4 L1870.9 1483.4 L1871.2 1483.4 L1871.5 1483.4 L1871.8 1483.4 L1872.0 1483.4 L1872.3 1483.4 L1872.6 1483.4 L1872.9 1483.4 L1873.1 1483.4 L1873.4 1483.4 L1873.7 1483.4 L1874.0 1483.4 L1874.2 1483.4 L1874.5 1483.4 L1874.8 1483.4 L1875.1 1483.4 L1875.3 1483.4 L1875.6 1483.4 L1875.9 1483.4 L1876.1 1483.4 L1876.4 1483.4 L1876.7 1483.4 L1876.9 1483.4 L1877.2 1483.4 L1877.4 1483.4 L1877.7 1483.4 L1878.0 1483.4 L1878.2 1483.4 L1878.5 1483.4 L1878.7 1483.4 L1879.0 1483.4 L1879.2 1483.4 L1879.5 1483.4 L1879.7 1483.4 L1880.0 1483.4 L1880.0 1483.4" fill="none" stroke="#0000ff" stroke-width="5.2" stroke-linejoin="round" stroke-linecap="butt"/>
<path d="M243.3 1039.0 C244.8 1040.9 249.0 1045.8 252.3 1050.4 C255.6 1055.0 258.9 1060.9 263.0 1066.7 C267.1 1072.5 271.8 1079.8 276.8 1085.5 C281.8 1091.2 287.8 1095.8 293.2 1101.0 C298.6 1106.2 304.8 1111.7 309.5 1116.6 C314.2 1121.5 317.6 1125.1 321.7 1130.4 C325.8 1135.7 330.2 1142.5 334.0 1148.4 C337.8 1154.3 340.2 1156.7 344.6 1166.0 C349.0 1175.3 355.9 1193.2 360.6 1204.0 C365.3 1214.8 368.8 1221.4 373.0 1231.0 C377.2 1240.6 381.1 1251.5 385.7 1261.5 C390.3 1271.5 395.6 1282.1 400.5 1291.0 C405.4 1299.9 409.7 1307.2 415.3 1315.0 C420.9 1322.8 427.8 1331.4 434.0 1337.6 C440.2 1343.8 445.0 1348.4 452.4 1352.4 C459.8 1356.4 470.3 1360.4 478.4 1361.7 C486.4 1363.0 493.0 1362.2 500.7 1360.0 C508.4 1357.8 516.1 1353.4 524.8 1348.7 C533.4 1344.0 541.8 1338.2 552.6 1332.0 C563.4 1325.8 578.6 1316.5 589.7 1311.6 C600.8 1306.7 610.1 1304.6 619.4 1302.4 C628.7 1300.2 636.4 1298.6 645.4 1298.6 C654.4 1298.6 664.6 1299.3 673.2 1302.4 C681.9 1305.5 688.0 1310.8 697.3 1317.2 C706.6 1323.6 716.8 1329.2 728.9 1341.0 C741.0 1352.8 758.2 1375.2 769.6 1388.0 C781.0 1400.8 787.7 1410.3 797.4 1418.0 C807.1 1425.7 816.8 1429.6 827.6 1434.2 C838.4 1438.8 850.2 1442.2 862.3 1445.8 C874.4 1449.4 887.5 1453.2 900.0 1456.0 C912.5 1458.8 923.1 1460.7 937.0 1462.7 C950.9 1464.7 968.0 1466.7 983.5 1468.2 C999.0 1469.8 1013.0 1470.9 1030.0 1472.0 C1047.0 1473.1 1067.0 1473.9 1085.5 1474.7 C1104.0 1475.5 1118.6 1476.0 1141.0 1476.6 C1163.4 1477.2 1206.8 1478.2 1220.0 1478.5" fill="none" stroke="#000000" stroke-width="7.5" stroke-linejoin="round" stroke-linecap="butt"/>
<path d="M262.0 1219.8 L262.1 1219.9 L262.4 1220.2 L262.7 1220.4 L263.0 1220.6 L263.3 1220.9 L263.6 1221.1 L263.9 1221.4 L264.3 1221.7 L264.6 1222.0 L265.0 1222.2 L265.3 1222.5 L265.7 1222.8 L266.1 1223.1 L266.5 1223.5 L266.9 1223.8 L267.3 1224.1 L267.7 1224.4 L268.1 1224.8 L268.5 1225.1 L269.0 1225.5 L269.4 1225.8 L269.8 1226.2 L270.3 1226.5 L270.7 1226.9 L271.1 1227.3 L271.6 1227.6 L272.0 1228.0 L272.5 1228.4 L272.9 1228.7 L273.4 1229.1 L273.8 1229.5 L274.3 1229.9 L274.7 1230.2 L275.2 1230.6 L275.6 1231.0 L276.1 1231.4 L276.5 1231.8 L277.0 1232.1 L277.4 1232.5 L277.8 1232.9 L278.2 1233.3 L278.7 1233.6 L279.1 1234.0 L279.5 1234.4 L279.9 1234.7 L280.3 1235.1 L280.7 1235.5 L281.1 1235.8 L281.4 1236.2 L281.8 1236.5 L282.0 1236.7 M299.0 1254.9 L299.3 1255.2 L299.6 1255.6 L300.0 1256.0 L300.3 1256.3 L300.6 1256.7 L300.9 1257.1 L301.2 1257.4 L301.5 1257.8 L301.9 1258.1 L302.2 1258.5 L302.5 1258.9 L302.8 1259.3 L303.1 1259.6 L303.4 1260.0 L303.8 1260.4 L304.1 1260.8 L304.4 1261.2 L304.7 1261.6 L305.1 1262.0 L305.4 1262.4 L305.7 1262.8 L306.0 1263.2 L306.4 1263.6 L306.7 1264.0 L307.0 1264.4 L307.4 1264.8 L307.7 1265.2 L308.0 1265.6 L308.4 1266.0 L308.7 1266.4 L309.0 1266.8 L309.4 1267.2 L309.7 1267.6 L310.0 1268.0 L310.4 1268.4 L310.7 1268.8 L311.0 1269.3 L311.4 1269.7 L311.7 1270.1 L312.0 1270.5 L312.4 1270.9 L312.7 1271.3 L313.0 1271.7 L313.3 1272.1 L313.7 1272.5 L314.0 1272.9 L314.3 1273.3 L314.7 1273.7 L315.0 1274.1 L315.3 1274.5 L315.6 1274.9 L316.0 1275.3 L316.3 1275.7 L316.6 1276.1 L316.9 1276.5 L317.2 1276.9 L317.5 1277.3 L317.9 1277.7 L318.2 1278.0 L318.5 1278.4 L318.8 1278.8 L319.1 1279.2 L319.4 1279.5 L319.7 1279.9 L320.0 1280.3 L320.3 1280.6 L320.6 1281.0 L320.6 1281.0 M337.8 1301.6 L337.8 1301.6 L338.2 1301.9 L338.5 1302.3 L338.9 1302.6 L339.3 1303.0 L339.6 1303.3 L340.0 1303.7 L340.4 1304.0 L340.8 1304.3 L341.1 1304.7 L341.5 1305.0 L341.9 1305.3 L342.3 1305.6 L342.7 1306.0 L343.1 1306.3 L343.5 1306.6 L343.9 1306.9 L344.3 1307.3 L344.7 1307.6 L345.1 1307.9 L345.5 1308.2 L345.9 1308.5 L346.3 1308.8 L346.7 1309.2 L347.1 1309.5 L347.5 1309.8 L347.9 1310.1 L348.3 1310.4 L348.7 1310.7 L349.1 1311.0 L349.6 1311.3 L350.0 1311.6 L350.4 1311.9 L350.8 1312.2 L351.2 1312.5 L351.6 1312.8 L352.0 1313.1 L352.4 1313.4 L352.8 1313.7 L353.2 1314.0 L353.6 1314.3 L354.1 1314.6 L354.5 1314.9 L354.9 1315.2 L355.3 1315.5 L355.7 1315.8 L356.1 1316.1 L356.5 1316.4 L356.9 1316.7 L357.3 1317.0 L357.6 1317.3 L358.0 1317.6 L358.4 1317.9 L358.8 1318.2 L359.2 1318.5 L359.2 1318.5 M379.2 1333.5 L379.2 1333.5 L379.6 1333.8 L380.0 1334.1 L380.4 1334.4 L380.8 1334.7 L381.2 1335.0 L381.6 1335.2 L382.0 1335.5 L382.4 1335.8 L382.8 1336.1 L383.2 1336.4 L383.6 1336.7 L384.0 1337.0 L384.4 1337.3 L384.8 1337.6 L385.3 1337.9 L385.7 1338.2 L386.1 1338.5 L386.5 1338.8 L386.9 1339.1 L387.3 1339.4 L387.7 1339.7 L388.1 1339.9 L388.5 1340.2 L388.9 1340.5 L389.4 1340.8 L389.8 1341.1 L390.2 1341.4 L390.6 1341.7 L391.0 1342.0 L391.4 1342.3 L391.9 1342.6 L392.3 1342.9 L392.7 1343.2 L393.1 1343.4 L393.5 1343.7 L393.9 1344.0 L394.4 1344.3 L394.8 1344.6 L395.2 1344.9 L395.6 1345.2 L396.0 1345.5 L396.5 1345.7 L396.9 1346.0 L397.3 1346.3 L397.7 1346.6 L398.2 1346.9 L398.6 1347.1 L399.0 1347.4 L399.4 1347.7 L399.8 1348.0 L400.3 1348.2 L400.7 1348.5 L400.7 1348.5 M423.5 1361.6 L423.5 1361.6 L423.9 1361.9 L424.4 1362.1 L424.8 1362.4 L425.3 1362.6 L425.7 1362.9 L426.1 1363.1 L426.6 1363.4 L427.0 1363.6 L427.5 1363.9 L427.9 1364.1 L428.4 1364.4 L428.8 1364.6 L429.3 1364.9 L429.7 1365.1 L430.2 1365.4 L430.6 1365.6 L431.1 1365.9 L431.5 1366.1 L431.9 1366.4 L432.4 1366.6 L432.8 1366.9 L433.3 1367.1 L433.7 1367.4 L434.2 1367.6 L434.6 1367.9 L435.1 1368.2 L435.5 1368.4 L436.0 1368.7 L436.4 1368.9 L436.8 1369.2 L437.3 1369.4 L437.7 1369.6 L438.2 1369.9 L438.6 1370.1 L439.1 1370.4 L439.5 1370.6 L439.9 1370.9 L440.4 1371.1 L440.8 1371.4 L441.2 1371.6 L441.7 1371.9 L442.1 1372.1 L442.6 1372.4 L443.0 1372.6 L443.4 1372.8 L443.8 1373.1 L444.3 1373.3 L444.7 1373.6 L445.1 1373.8 L445.6 1374.0 L446.0 1374.3 L446.4 1374.5 L446.4 1374.5 M464.0 1384.2 L464.2 1384.3 L464.6 1384.6 L465.1 1384.8 L465.5 1385.0 L465.9 1385.3 L466.4 1385.5 L466.8 1385.8 L467.3 1386.0 L467.7 1386.2 L468.2 1386.5 L468.6 1386.7 L469.1 1386.9 L469.5 1387.2 L469.9 1387.4 L470.4 1387.7 L470.8 1387.9 L471.3 1388.2 L471.7 1388.4 L472.1 1388.7 L472.6 1388.9 L473.0 1389.1 L473.4 1389.4 L473.9 1389.6 L474.3 1389.9 L474.8 1390.1 L475.2 1390.4 L475.6 1390.6 L476.1 1390.9 L476.5 1391.1 L476.9 1391.3 L477.4 1391.6 L477.8 1391.8 L478.3 1392.1 L478.7 1392.3 L479.2 1392.5 L479.6 1392.8 L480.1 1393.0 L480.5 1393.2 L481.0 1393.5 L481.4 1393.7 L481.9 1393.9 L482.3 1394.2 L482.8 1394.4 L483.3 1394.6 L483.7 1394.8 L484.2 1395.0 L484.7 1395.2 L485.1 1395.4 L485.6 1395.7 L486.1 1395.9 L486.6 1396.1 L487.0 1396.2 L487.5 1396.4 L488.0 1396.6 L488.5 1396.8 L489.0 1397.0 L489.0 1397.0 M515.0 1403.3 L515.0 1403.3 L515.5 1403.4 L516.0 1403.4 L516.5 1403.5 L517.0 1403.5 L517.5 1403.6 L518.0 1403.6 L518.5 1403.7 L519.0 1403.7 L519.5 1403.7 L520.0 1403.8 L520.5 1403.8 L521.0 1403.8 L521.5 1403.9 L522.0 1403.9 L522.5 1403.9 L523.0 1404.0 L523.5 1404.0 L524.0 1404.0 L524.5 1404.0 L525.0 1404.0 L525.5 1404.0 L526.0 1404.0 L526.5 1404.1 L527.0 1404.1 L527.5 1404.1 L528.0 1404.1 L528.5 1404.1 L529.0 1404.1 L529.5 1404.1 L530.0 1404.1 L530.5 1404.1 L531.0 1404.1 L531.5 1404.0 L532.0 1404.0 L532.5 1404.0 L533.0 1404.0 L533.5 1404.0 L534.0 1404.0 L534.5 1404.0 L535.0 1403.9 L535.5 1403.9 L536.0 1403.9 L536.5 1403.9 L537.0 1403.8 L537.5 1403.8 L538.0 1403.8 L538.5 1403.7 L539.0 1403.7 L539.5 1403.7 L540.0 1403.6 L540.5 1403.6 L541.0 1403.6 L541.5 1403.5 L542.0 1403.5 L542.0 1403.5 M568.0 1399.0 L568.0 1399.0 L568.5 1398.9 L569.0 1398.8 L569.5 1398.7 L570.0 1398.7 L570.5 1398.6 L571.0 1398.5 L571.5 1398.4 L572.0 1398.3 L572.5 1398.2 L573.0 1398.1 L573.5 1398.1 L574.0 1398.0 L574.5 1397.9 L575.0 1397.8 L575.5 1397.7 L576.0 1397.6 L576.5 1397.5 L577.0 1397.5 L577.5 1397.4 L578.0 1397.3 L578.5 1397.2 L579.1 1397.1 L579.6 1397.0 L580.1 1397.0 L580.6 1396.9 L581.1 1396.8 L581.6 1396.7 L582.1 1396.6 L582.6 1396.5 L583.1 1396.4 L583.6 1396.4 L584.1 1396.3 L584.6 1396.2 L585.1 1396.1 L585.6 1396.0 L586.1 1395.9 L586.6 1395.8 L587.1 1395.7 L587.6 1395.7 L588.1 1395.6 L588.6 1395.5 L589.1 1395.4 L589.6 1395.3 L590.1 1395.2 L590.6 1395.1 L591.0 1395.0 L591.5 1395.0 L592.0 1394.9 L592.5 1394.8 L593.0 1394.7 L593.5 1394.6 L594.0 1394.5 L594.0 1394.5 M618.6 1389.6 L619.0 1389.5 L619.5 1389.4 L620.0 1389.3 L620.4 1389.2 L620.9 1389.2 L621.4 1389.1 L621.9 1389.0 L622.4 1388.9 L622.9 1388.8 L623.3 1388.7 L623.8 1388.6 L624.3 1388.5 L624.8 1388.4 L625.3 1388.3 L625.8 1388.3 L626.3 1388.2 L626.8 1388.1 L627.3 1388.0 L627.8 1387.9 L628.3 1387.8 L628.8 1387.7 L629.4 1387.6 L629.9 1387.5 L630.4 1387.4 L630.9 1387.3 L631.4 1387.3 L631.9 1387.2 L632.4 1387.1 L632.9 1387.0 L633.4 1386.9 L633.9 1386.8 L634.5 1386.7 L635.0 1386.7 L635.5 1386.6 L636.0 1386.5 L636.5 1386.4 L637.0 1386.3 L637.5 1386.2 L638.0 1386.2 L638.5 1386.1 L639.0 1386.0 L639.5 1385.9 L640.0 1385.9 L640.6 1385.8 L641.1 1385.7 L641.6 1385.6 L642.1 1385.6 L642.6 1385.5 L643.1 1385.4 L643.6 1385.4 L644.1 1385.3 L644.6 1385.3 L645.0 1385.2 L645.5 1385.2 L646.0 1385.1 L646.5 1385.0 L647.0 1385.0 L647.3 1385.0 M673.3 1384.1 L673.3 1384.1 L673.8 1384.1 L674.3 1384.2 L674.8 1384.2 L675.3 1384.3 L675.8 1384.3 L676.2 1384.4 L676.7 1384.5 L677.2 1384.5 L677.7 1384.6 L678.2 1384.7 L678.7 1384.7 L679.2 1384.8 L679.7 1384.9 L680.2 1385.0 L680.7 1385.1 L681.1 1385.1 L681.6 1385.2 L682.1 1385.3 L682.6 1385.4 L683.1 1385.5 L683.6 1385.6 L684.1 1385.7 L684.6 1385.8 L685.1 1385.9 L685.6 1386.0 L686.1 1386.1 L686.5 1386.2 L687.0 1386.3 L687.5 1386.4 L688.0 1386.5 L688.5 1386.7 L689.0 1386.8 L689.5 1386.9 L690.0 1387.0 L690.5 1387.1 L691.0 1387.2 L691.5 1387.4 L692.0 1387.5 L692.5 1387.6 L693.0 1387.7 L693.5 1387.8 L694.0 1388.0 L694.5 1388.1 L695.0 1388.2 L695.5 1388.3 L696.0 1388.5 L696.5 1388.6 L697.0 1388.7 L697.5 1388.9 L698.0 1389.0 L698.5 1389.1 L699.0 1389.2 L699.5 1389.4 L700.0 1389.5 L700.5 1389.6 L700.9 1389.7 L701.4 1389.9 L701.9 1390.0 L702.4 1390.1 L702.9 1390.3 L703.4 1390.4 L703.9 1390.5 L704.4 1390.6 L704.9 1390.8 L705.4 1390.9 L705.9 1391.1 L706.4 1391.2 L706.9 1391.3 L707.4 1391.5 L707.9 1391.6 L708.4 1391.8 L708.9 1391.9 L709.4 1392.1 L709.9 1392.2 L710.4 1392.3 L710.9 1392.5 L711.4 1392.6 L711.9 1392.8 L712.4 1392.9 L712.9 1393.1 L713.4 1393.3 L713.9 1393.4 L714.5 1393.6 L715.0 1393.7 L715.5 1393.9 L716.0 1394.0 L716.5 1394.2 L717.0 1394.3 L717.4 1394.5 L717.9 1394.6 L718.4 1394.8 L718.9 1394.9 L719.4 1395.1 L719.9 1395.3 L720.4 1395.4 L720.9 1395.6 L721.3 1395.7 L721.8 1395.9 L722.3 1396.0 L722.7 1396.2 L723.2 1396.3 L723.7 1396.5 L724.1 1396.6 L724.6 1396.8 L725.0 1397.0 L725.5 1397.1 L725.9 1397.3 L726.3 1397.4 L726.7 1397.6 L727.2 1397.7 L727.6 1397.9 L728.0 1398.0 L728.0 1398.0 M747.5 1406.5 L747.5 1406.5 L747.9 1406.6 L748.3 1406.8 L748.8 1407.0 L749.2 1407.1 L749.6 1407.3 L750.1 1407.4 L750.5 1407.6 L751.0 1407.7 L751.4 1407.9 L751.9 1408.0 L752.4 1408.2 L752.8 1408.3 L753.3 1408.5 L753.8 1408.6 L754.3 1408.8 L754.8 1408.9 L755.2 1409.1 L755.7 1409.3 L756.2 1409.4 L756.7 1409.6 L757.2 1409.7 L757.7 1409.9 L758.2 1410.0 L758.7 1410.2 L759.2 1410.3 L759.7 1410.5 L760.2 1410.6 L760.7 1410.8 L761.2 1411.0 L761.7 1411.1 L762.2 1411.3 L762.8 1411.4 L763.3 1411.6 L763.8 1411.7 L764.3 1411.9 L764.8 1412.0 L765.3 1412.1 L765.8 1412.3 L766.3 1412.4 L766.8 1412.6 L767.3 1412.7 L767.8 1412.9 L768.3 1413.0 L768.8 1413.1 L769.2 1413.3 L769.7 1413.4 L770.2 1413.5 L770.7 1413.7 L771.2 1413.8 L771.6 1413.9 L772.1 1414.1 L772.6 1414.2 L773.0 1414.3 L773.5 1414.5 L774.0 1414.6 L774.4 1414.7 L774.4 1414.7 M797.4 1420.0 L797.4 1420.0 L797.9 1420.1 L798.4 1420.1 L798.8 1420.2 L799.3 1420.3 L799.8 1420.3 L800.3 1420.4 L800.8 1420.4 L801.2 1420.5 L801.7 1420.5 L802.2 1420.6 L802.7 1420.6 L803.2 1420.7 L803.7 1420.7 L804.2 1420.8 L804.6 1420.8 L805.1 1420.9 L805.6 1420.9 L806.1 1421.0 L806.6 1421.0 L807.1 1421.0 L807.6 1421.1 L808.1 1421.1 L808.6 1421.2 L809.1 1421.2 L809.6 1421.2 L810.1 1421.2 L810.6 1421.3 L811.1 1421.3 L811.6 1421.3 L812.1 1421.3 L812.6 1421.4 L813.1 1421.4 L813.6 1421.4 L814.1 1421.4 L814.6 1421.4 L815.2 1421.5 L815.7 1421.5 L816.2 1421.5 L816.7 1421.5 L817.2 1421.5 L817.7 1421.5 L818.2 1421.5 L818.7 1421.5 L819.3 1421.5 L819.8 1421.5 L820.3 1421.5 L820.8 1421.5 L821.3 1421.5 L821.9 1421.5 L822.4 1421.5 L822.9 1421.5 L822.9 1421.5 M850.7 1419.1 L850.7 1419.1 L851.2 1419.0 L851.7 1419.0 L852.2 1418.9 L852.7 1418.8 L853.2 1418.8 L853.7 1418.7 L854.2 1418.6 L854.7 1418.5 L855.2 1418.5 L855.7 1418.4 L856.2 1418.3 L856.7 1418.2 L857.2 1418.2 L857.7 1418.1 L858.2 1418.0 L858.7 1417.9 L859.2 1417.9 L859.7 1417.8 L860.2 1417.7 L860.7 1417.6 L861.2 1417.5 L861.7 1417.4 L862.2 1417.4 L862.6 1417.3 L863.1 1417.2 L863.6 1417.1 L864.1 1417.0 L864.6 1416.9 L865.1 1416.8 L865.6 1416.7 L866.1 1416.7 L866.6 1416.6 L867.1 1416.5 L867.6 1416.4 L868.1 1416.3 L868.5 1416.2 L869.0 1416.1 L869.5 1416.0 L870.0 1415.9 L870.5 1415.8 L871.0 1415.7 L871.5 1415.6 L872.0 1415.6 L872.5 1415.5 L873.0 1415.4 L873.5 1415.3 L874.0 1415.2 L874.4 1415.1 L874.9 1415.0 L875.4 1414.9 L875.9 1414.8 L876.4 1414.7 L876.9 1414.6 L877.4 1414.5 L877.4 1414.5 M904.0 1408.7 L904.0 1408.7 L904.5 1408.6 L905.0 1408.5 L905.5 1408.4 L906.0 1408.4 L906.6 1408.3 L907.1 1408.2 L907.6 1408.1 L908.1 1408.0 L908.6 1408.0 L909.1 1407.9 L909.6 1407.8 L910.1 1407.7 L910.6 1407.7 L911.1 1407.6 L911.6 1407.5 L912.1 1407.5 L912.6 1407.4 L913.1 1407.3 L913.6 1407.3 L914.1 1407.2 L914.6 1407.1 L915.1 1407.1 L915.6 1407.0 L916.1 1407.0 L916.6 1406.9 L917.1 1406.8 L917.6 1406.8 L918.1 1406.7 L918.6 1406.7 L919.1 1406.6 L919.6 1406.5 L920.1 1406.5 L920.6 1406.4 L921.1 1406.4 L921.6 1406.3 L922.1 1406.2 L922.6 1406.2 L923.1 1406.1 L923.6 1406.1 L924.1 1406.0 L924.6 1405.9 L925.1 1405.9 L925.6 1405.8 L926.1 1405.7 L926.6 1405.6 L927.1 1405.6 L927.6 1405.5 L928.1 1405.4 L928.6 1405.4 L929.1 1405.3 L929.6 1405.2 L929.6 1405.2 M955.1 1400.6 L955.5 1400.5 L956.0 1400.4 L956.5 1400.3 L956.9 1400.3 L957.4 1400.2 L957.9 1400.1 L958.4 1400.0 L958.9 1399.9 L959.4 1399.8 L959.9 1399.7 L960.4 1399.6 L960.9 1399.5 L961.4 1399.4 L961.9 1399.4 L962.3 1399.3 L962.8 1399.2 L963.3 1399.1 L963.8 1399.0 L964.3 1398.9 L964.8 1398.8 L965.3 1398.7 L965.8 1398.6 L966.3 1398.5 L966.8 1398.4 L967.3 1398.3 L967.8 1398.3 L968.3 1398.2 L968.8 1398.1 L969.3 1398.0 L969.8 1397.9 L970.3 1397.8 L970.8 1397.7 L971.3 1397.6 L971.8 1397.5 L972.3 1397.5 L972.8 1397.4 L973.3 1397.3 L973.8 1397.2 L974.3 1397.1 L974.8 1397.0 L975.3 1397.0 L975.8 1396.9 L976.3 1396.8 L976.8 1396.7 L977.3 1396.6 L977.8 1396.6 L978.3 1396.5 L978.8 1396.4 L979.3 1396.3 L979.8 1396.3 L980.3 1396.2 L980.8 1396.1 L981.3 1396.1 L981.8 1396.0 L981.8 1396.0 M1008.4 1393.6 L1008.4 1393.6 L1008.9 1393.6 L1009.4 1393.6 L1009.9 1393.5 L1010.4 1393.5 L1010.9 1393.5 L1011.4 1393.5 L1011.9 1393.5 L1012.4 1393.5 L1012.9 1393.5 L1013.5 1393.5 L1014.0 1393.4 L1014.5 1393.4 L1015.0 1393.4 L1015.5 1393.4 L1016.1 1393.4 L1016.6 1393.4 L1017.1 1393.4 L1017.6 1393.4 L1018.1 1393.4 L1018.7 1393.4 L1019.2 1393.4 L1019.7 1393.4 L1020.2 1393.4 L1020.8 1393.4 L1021.3 1393.4 L1021.8 1393.4 L1022.3 1393.4 L1022.9 1393.4 L1023.4 1393.5 L1023.9 1393.5 L1024.4 1393.5 L1024.9 1393.5 L1025.5 1393.5 L1026.0 1393.5 L1026.5 1393.5 L1027.0 1393.5 L1027.5 1393.5 L1028.0 1393.5 L1028.5 1393.5 L1029.0 1393.5 L1029.5 1393.5 L1030.0 1393.5 L1030.5 1393.5 L1031.0 1393.6 L1031.5 1393.6 L1032.0 1393.6 L1032.5 1393.6 L1033.0 1393.6 L1033.5 1393.6 L1034.0 1393.6 L1034.4 1393.6 L1034.9 1393.6 L1035.4 1393.6 L1035.8 1393.6 L1036.3 1393.6 L1036.3 1393.6 M1058.6 1393.7 L1059.0 1393.7 L1059.4 1393.7 L1059.9 1393.7 L1060.4 1393.7 L1060.9 1393.7 L1061.3 1393.7 L1061.8 1393.7 L1062.3 1393.7 L1062.8 1393.7 L1063.4 1393.7 L1063.9 1393.7 L1064.4 1393.7 L1064.9 1393.7 L1065.5 1393.7 L1066.0 1393.7 L1066.6 1393.7 L1067.1 1393.7 L1067.7 1393.7 L1068.2 1393.7 L1068.8 1393.7 L1069.4 1393.7 L1069.9 1393.7 L1070.5 1393.7 L1071.1 1393.7 L1071.6 1393.7 L1072.2 1393.7 L1072.8 1393.7 L1073.3 1393.7 L1073.9 1393.7 L1074.5 1393.7 L1075.0 1393.7 L1075.6 1393.7 L1076.2 1393.7 L1076.7 1393.7 L1077.3 1393.6 L1077.8 1393.6 L1078.4 1393.6 L1078.9 1393.6 L1079.4 1393.6 L1080.0 1393.6 L1080.5 1393.6 L1081.0 1393.6 L1081.5 1393.6 L1082.0 1393.6 L1082.5 1393.6 L1083.0 1393.6 L1083.5 1393.6 L1083.9 1393.7 L1084.4 1393.7 L1084.8 1393.7 L1085.3 1393.7 L1085.7 1393.7 L1086.1 1393.7 L1086.5 1393.7 L1086.9 1393.7 L1087.3 1393.7 L1087.7 1393.7 L1088.0 1393.7 L1088.4 1393.7 L1088.7 1393.7 L1088.7 1393.7 M1097.0 1394.5 L1097.0 1394.5 L1097.3 1394.5 L1097.7 1394.6 L1098.0 1394.6 L1098.4 1394.7 L1098.8 1394.7 L1099.1 1394.7 L1099.5 1394.8 L1100.0 1394.8 L1100.4 1394.9 L1100.8 1394.9 L1101.3 1395.0 L1101.7 1395.0 L1102.2 1395.1 L1102.6 1395.1 L1103.1 1395.2 L1103.6 1395.2 L1104.1 1395.3 L1104.6 1395.4 L1105.1 1395.4 L1105.6 1395.5 L1106.1 1395.5 L1106.7 1395.6 L1107.2 1395.6 L1107.7 1395.7 L1108.3 1395.8 L1108.8 1395.8 L1109.3 1395.9 L1109.9 1396.0 L1110.4 1396.0 L1111.0 1396.1 L1111.6 1396.1 L1112.1 1396.2 L1112.7 1396.3 L1113.2 1396.3 L1113.8 1396.4 L1114.3 1396.5 L1114.9 1396.5 L1115.5 1396.6 L1116.0 1396.7 L1116.6 1396.7 L1117.1 1396.8 L1117.7 1396.9 L1118.2 1396.9 L1118.8 1397.0 L1119.3 1397.1 L1119.9 1397.1 L1120.4 1397.2 L1120.9 1397.3 L1121.4 1397.3 L1122.0 1397.4 L1122.5 1397.5 L1123.0 1397.5 L1123.5 1397.6 L1124.0 1397.7 L1124.4 1397.7 L1124.9 1397.8 L1125.4 1397.9 L1125.9 1397.9 L1126.3 1398.0 L1126.3 1398.0 M1149.5 1402.0 L1149.5 1402.0 L1150.0 1402.1 L1150.4 1402.1 L1150.9 1402.2 L1151.3 1402.2 L1151.8 1402.3 L1152.3 1402.4 L1152.8 1402.4 L1153.3 1402.5 L1153.7 1402.5 L1154.2 1402.6 L1154.7 1402.6 L1155.2 1402.7 L1155.7 1402.7 L1156.2 1402.8 L1156.8 1402.8 L1157.3 1402.9 L1157.8 1402.9 L1158.3 1403.0 L1158.8 1403.0 L1159.4 1403.1 L1159.9 1403.1 L1160.4 1403.2 L1160.9 1403.2 L1161.5 1403.3 L1162.0 1403.3 L1162.5 1403.4 L1163.1 1403.4 L1163.6 1403.5 L1164.1 1403.5 L1164.6 1403.6 L1165.2 1403.6 L1165.7 1403.7 L1166.2 1403.7 L1166.8 1403.8 L1167.3 1403.8 L1167.8 1403.9 L1168.3 1403.9 L1168.9 1404.0 L1169.4 1404.0 L1169.9 1404.1 L1170.4 1404.2 L1170.9 1404.2 L1171.5 1404.3 L1172.0 1404.3 L1172.5 1404.4 L1173.0 1404.5 L1173.5 1404.5 L1174.0 1404.6 L1174.5 1404.7 L1174.9 1404.8 L1175.4 1404.8 L1175.9 1404.9 L1176.4 1405.0 L1176.8 1405.1 L1177.3 1405.1 L1177.8 1405.2 L1178.2 1405.3 L1178.7 1405.4 L1179.1 1405.5 L1179.1 1405.5 M1201.0 1413.0 L1201.0 1413.0 L1201.4 1413.1 L1201.9 1413.2 L1202.3 1413.4 L1202.8 1413.5 L1203.2 1413.6 L1203.7 1413.7 L1204.2 1413.9 L1204.6 1414.0 L1205.1 1414.1 L1205.6 1414.2 L1206.1 1414.4 L1206.5 1414.5 L1207.0 1414.6 L1207.5 1414.7 L1208.0 1414.8 L1208.5 1415.0 L1209.0 1415.1 L1209.5 1415.2 L1210.0 1415.3 L1210.5 1415.4 L1211.0 1415.6 L1211.6 1415.7 L1212.1 1415.8 L1212.6 1415.9 L1213.1 1416.0 L1213.6 1416.1 L1214.1 1416.3 L1214.6 1416.4 L1215.2 1416.5 L1215.7 1416.6 L1216.2 1416.7 L1216.7 1416.9 L1217.2 1417.0 L1217.7 1417.1 L1218.2 1417.2 L1218.7 1417.3 L1219.3 1417.4 L1219.8 1417.6 L1220.3 1417.7 L1220.8 1417.8 L1221.3 1417.9 L1221.8 1418.0 L1222.3 1418.2 L1222.8 1418.3 L1223.2 1418.4 L1223.7 1418.5 L1224.2 1418.6 L1224.7 1418.8 L1225.2 1418.9 L1225.6 1419.0 L1226.1 1419.1 L1226.6 1419.3 L1227.0 1419.4 L1227.5 1419.5 L1227.9 1419.6 L1228.3 1419.8 L1228.8 1419.9 L1229.2 1420.0 L1229.2 1420.0 M1250.2 1427.5 L1250.2 1427.5 L1250.6 1427.6 L1251.1 1427.8 L1251.5 1427.9 L1252.0 1428.0 L1252.4 1428.1 L1252.9 1428.3 L1253.3 1428.4 L1253.8 1428.5 L1254.3 1428.7 L1254.7 1428.8 L1255.2 1428.9 L1255.7 1429.0 L1256.2 1429.2 L1256.7 1429.3 L1257.2 1429.4 L1257.7 1429.6 L1258.2 1429.7 L1258.7 1429.8 L1259.2 1429.9 L1259.7 1430.1 L1260.2 1430.2 L1260.7 1430.3 L1261.2 1430.4 L1261.7 1430.6 L1262.2 1430.7 L1262.7 1430.8 L1263.2 1431.0 L1263.8 1431.1 L1264.3 1431.2 L1264.8 1431.3 L1265.3 1431.5 L1265.8 1431.6 L1266.3 1431.7 L1266.8 1431.8 L1267.4 1432.0 L1267.9 1432.1 L1268.4 1432.2 L1268.9 1432.4 L1269.4 1432.5 L1269.9 1432.6 L1270.4 1432.8 L1270.9 1432.9 L1271.4 1433.0 L1271.9 1433.1 L1272.4 1433.3 L1272.9 1433.4 L1273.4 1433.5 L1273.8 1433.7 L1274.3 1433.8 L1274.8 1433.9 L1275.3 1434.1 L1275.7 1434.2 L1276.2 1434.4 L1276.7 1434.5 L1277.1 1434.6 L1277.6 1434.8 L1278.0 1434.9 L1278.0 1434.9 M1300.3 1443.3 L1300.3 1443.3 L1300.7 1443.4 L1301.2 1443.6 L1301.7 1443.7 L1302.1 1443.8 L1302.6 1444.0 L1303.1 1444.1 L1303.6 1444.2 L1304.0 1444.3 L1304.5 1444.5 L1305.0 1444.6 L1305.5 1444.7 L1306.0 1444.8 L1306.5 1444.9 L1307.0 1445.1 L1307.5 1445.2 L1308.0 1445.3 L1308.5 1445.4 L1309.1 1445.5 L1309.6 1445.6 L1310.1 1445.8 L1310.6 1445.9 L1311.1 1446.0 L1311.6 1446.1 L1312.2 1446.2 L1312.7 1446.3 L1313.2 1446.4 L1313.7 1446.6 L1314.3 1446.7 L1314.8 1446.8 L1315.3 1446.9 L1315.8 1447.0 L1316.3 1447.1 L1316.9 1447.2 L1317.4 1447.3 L1317.9 1447.4 L1318.4 1447.6 L1318.9 1447.7 L1319.4 1447.8 L1319.9 1447.9 L1320.5 1448.0 L1321.0 1448.1 L1321.5 1448.2 L1322.0 1448.3 L1322.4 1448.4 L1322.9 1448.6 L1323.4 1448.7 L1323.9 1448.8 L1324.4 1448.9 L1324.8 1449.0 L1325.3 1449.1 L1325.8 1449.2 L1326.2 1449.3 L1326.7 1449.5 L1327.1 1449.6 L1327.6 1449.7 L1328.0 1449.8 L1328.1 1449.8 M1348.5 1456.3 L1348.5 1456.3 L1348.9 1456.4 L1349.4 1456.5 L1349.8 1456.6 L1350.3 1456.7 L1350.7 1456.8 L1351.2 1456.9 L1351.7 1457.0 L1352.1 1457.2 L1352.6 1457.3 L1353.1 1457.4 L1353.6 1457.5 L1354.0 1457.6 L1354.5 1457.7 L1355.0 1457.8 L1355.5 1457.9 L1356.0 1458.0 L1356.5 1458.1 L1357.0 1458.2 L1357.5 1458.3 L1358.0 1458.4 L1358.5 1458.5 L1359.1 1458.6 L1359.6 1458.7 L1360.1 1458.8 L1360.6 1458.9 L1361.1 1459.0 L1361.6 1459.1 L1362.2 1459.2 L1362.7 1459.3 L1363.2 1459.4 L1363.7 1459.5 L1364.3 1459.6 L1364.8 1459.7 L1365.3 1459.8 L1365.8 1459.9 L1366.3 1460.0 L1366.9 1460.1 L1367.4 1460.2 L1367.9 1460.3 L1368.4 1460.4 L1368.9 1460.5 L1369.4 1460.6 L1369.9 1460.7 L1370.4 1460.8 L1371.0 1460.8 L1371.5 1460.9 L1372.0 1461.0 L1372.5 1461.1 L1372.9 1461.2 L1373.4 1461.3 L1373.9 1461.4 L1374.4 1461.5 L1374.9 1461.5 L1375.4 1461.6 L1375.8 1461.7 L1376.3 1461.8 L1376.3 1461.8 M1400.5 1465.5 L1400.5 1465.5 L1401.0 1465.6 L1401.4 1465.6 L1401.9 1465.7 L1402.4 1465.8 L1402.9 1465.8 L1403.3 1465.9 L1403.8 1466.0 L1404.3 1466.0 L1404.8 1466.1 L1405.3 1466.2 L1405.8 1466.3 L1406.3 1466.3 L1406.7 1466.4 L1407.2 1466.5 L1407.7 1466.5 L1408.2 1466.6 L1408.7 1466.7 L1409.2 1466.8 L1409.7 1466.8 L1410.2 1466.9 L1410.7 1467.0 L1411.2 1467.0 L1411.8 1467.1 L1412.3 1467.2 L1412.8 1467.3 L1413.3 1467.3 L1413.8 1467.4 L1414.3 1467.5 L1414.8 1467.5 L1415.3 1467.6 L1415.8 1467.7 L1416.3 1467.7 L1416.8 1467.8 L1417.3 1467.9 L1417.8 1468.0 L1418.4 1468.0 L1418.9 1468.1 L1419.4 1468.2 L1419.9 1468.2 L1420.4 1468.3 L1420.9 1468.4 L1421.4 1468.4 L1421.9 1468.5 L1422.4 1468.6 L1422.9 1468.6 L1423.4 1468.7 L1423.9 1468.8 L1424.4 1468.8 L1424.9 1468.9 L1425.4 1468.9 L1425.9 1469.0 L1426.4 1469.1 L1426.8 1469.1 L1427.3 1469.2 L1427.8 1469.2 L1428.3 1469.3 L1428.3 1469.3 M1454.3 1472.0 L1454.3 1472.0 L1454.7 1472.0 L1455.1 1472.1 L1455.6 1472.1 L1456.0 1472.1 L1456.4 1472.2 L1456.9 1472.2 L1457.3 1472.2 L1457.8 1472.3 L1458.3 1472.3 L1458.7 1472.3 L1459.2 1472.4 L1459.7 1472.4 L1460.2 1472.4 L1460.7 1472.5 L1461.2 1472.5 L1461.7 1472.5 L1462.2 1472.5 L1462.7 1472.6 L1463.2 1472.6 L1463.7 1472.6 L1464.2 1472.7 L1464.7 1472.7 L1465.2 1472.7 L1465.8 1472.8 L1466.3 1472.8 L1466.8 1472.8 L1467.4 1472.9 L1467.9 1472.9 L1468.4 1472.9 L1469.0 1473.0 L1469.5 1473.0 L1470.1 1473.0 L1470.6 1473.1 L1471.1 1473.1 L1471.7 1473.1 L1472.2 1473.2 L1472.8 1473.2 L1473.3 1473.2 L1473.9 1473.2 L1474.4 1473.3 L1475.0 1473.3 L1475.5 1473.3 L1476.1 1473.4 L1476.6 1473.4 L1477.2 1473.4 L1477.7 1473.5 L1478.3 1473.5 L1478.8 1473.5 L1479.4 1473.6 L1479.9 1473.6 L1480.4 1473.6 L1481.0 1473.7 L1481.5 1473.7 L1482.1 1473.7 L1482.6 1473.7 L1483.1 1473.8 L1483.6 1473.8 L1484.2 1473.8 L1484.7 1473.9 L1485.2 1473.9 L1485.7 1473.9 L1486.2 1474.0 L1486.7 1474.0 L1487.2 1474.0 L1487.7 1474.0 L1488.2 1474.1 L1488.7 1474.1 L1489.2 1474.1 L1489.7 1474.2 L1490.2 1474.2 L1490.6 1474.2 L1491.1 1474.2 L1491.5 1474.3 L1492.0 1474.3 L1492.4 1474.3 L1492.9 1474.4 L1493.3 1474.4 L1493.8 1474.4 L1494.2 1474.4 L1494.6 1474.5 L1495.0 1474.5 L1495.1 1474.5 M1520.4 1476.5 L1520.5 1476.5 L1520.9 1476.6 L1521.4 1476.6 L1521.9 1476.6 L1522.3 1476.7 L1522.7 1476.7 L1523.2 1476.7 L1523.6 1476.7 L1524.1 1476.8 L1524.5 1476.8 L1524.9 1476.8 L1525.4 1476.9 L1525.8 1476.9 L1526.2 1476.9 L1526.7 1476.9 L1527.1 1477.0 L1527.5 1477.0 L1527.9 1477.0 L1528.4 1477.0 L1528.8 1477.1 L1529.2 1477.1 L1529.7 1477.1 L1530.1 1477.2 L1530.5 1477.2 L1531.0 1477.2 L1531.4 1477.2 L1531.9 1477.3 L1532.3 1477.3 L1532.8 1477.3 L1533.2 1477.3 L1533.7 1477.4 L1534.2 1477.4 L1534.6 1477.4 L1535.1 1477.4 L1535.6 1477.5 L1536.1 1477.5 L1536.6 1477.5 L1537.1 1477.5 L1537.6 1477.6 L1538.2 1477.6 L1538.7 1477.6 L1539.2 1477.6 L1539.8 1477.7 L1540.4 1477.7 L1540.9 1477.7 L1541.5 1477.7 L1542.1 1477.8 L1542.7 1477.8 L1543.3 1477.8 L1544.0 1477.8 L1544.6 1477.9 L1545.3 1477.9 L1545.9 1477.9 L1546.6 1477.9 L1547.3 1478.0 L1548.0 1478.0 L1548.2 1478.0 M1574.2 1478.9 L1574.4 1478.9 L1574.9 1478.9 L1575.4 1479.0 L1575.9 1479.0 L1576.5 1479.0 L1577.0 1479.0 L1577.5 1479.0 L1578.0 1479.0 L1578.6 1479.0 L1579.1 1479.1 L1579.7 1479.1 L1580.2 1479.1 L1580.8 1479.1 L1581.3 1479.1 L1581.9 1479.1 L1582.5 1479.1 L1583.1 1479.2 L1583.6 1479.2 L1584.2 1479.2 L1584.8 1479.2 L1585.4 1479.2 L1586.0 1479.2 L1586.6 1479.2 L1587.2 1479.3 L1587.9 1479.3 L1588.5 1479.3 L1589.1 1479.3 L1589.8 1479.3 L1590.4 1479.3 L1591.0 1479.3 L1591.7 1479.3 L1592.4 1479.4 L1593.0 1479.4 L1593.7 1479.4 L1594.4 1479.4 L1595.0 1479.4 L1595.7 1479.4 L1596.4 1479.4 L1597.1 1479.5 L1597.8 1479.5 L1598.6 1479.5 L1599.3 1479.5 L1600.0 1479.5 L1600.4 1479.5 L1600.8 1479.5 L1601.2 1479.5 L1601.5 1479.5 L1601.9 1479.5 L1602.3 1479.5 L1602.7 1479.5 L1603.1 1479.5 L1603.5 1479.6 L1603.9 1479.6 M1629.9 1479.9 L1629.9 1479.9 L1630.4 1479.9 L1630.9 1479.9 L1631.5 1479.9 L1632.0 1479.9 L1632.5 1479.9 L1633.0 1479.9 L1633.5 1479.9 L1634.0 1480.0 L1634.5 1480.0 L1635.0 1480.0 L1635.5 1480.0 L1636.0 1480.0 L1636.5 1480.0 L1637.1 1480.0 L1637.6 1480.0 L1638.1 1480.0 L1638.6 1480.0 L1639.1 1480.0 L1639.6 1480.0 L1640.2 1480.0 L1640.7 1480.0 L1641.2 1480.0 L1641.7 1480.0 L1642.3 1480.0 L1642.8 1480.1 L1643.3 1480.1 L1643.8 1480.1 L1644.4 1480.1 L1644.9 1480.1 L1645.4 1480.1 L1645.9 1480.1 L1646.5 1480.1 L1647.0 1480.1 L1647.5 1480.1 L1648.1 1480.1 L1648.6 1480.1 L1649.1 1480.1 L1649.7 1480.1 L1650.2 1480.1 L1650.7 1480.1 L1651.3 1480.1 L1651.8 1480.1 L1652.3 1480.1 L1652.9 1480.2 L1653.4 1480.2 L1653.9 1480.2 L1654.5 1480.2 L1655.0 1480.2 L1655.5 1480.2 L1656.1 1480.2 L1656.6 1480.2 L1657.2 1480.2 L1657.7 1480.2 L1657.7 1480.2 M1685.5 1480.4 L1685.6 1480.4 L1686.1 1480.4 L1686.6 1480.4 L1687.2 1480.4 L1687.7 1480.4 L1688.2 1480.4 L1688.7 1480.4 L1689.3 1480.4 L1689.8 1480.4 L1690.3 1480.4 L1690.8 1480.4 L1691.3 1480.5 L1691.9 1480.5 L1692.4 1480.5 L1692.9 1480.5 L1693.4 1480.5 L1693.9 1480.5 L1694.4 1480.5 L1694.9 1480.5 L1695.5 1480.5 L1696.0 1480.5 L1696.5 1480.5 L1697.0 1480.5 L1697.5 1480.5 L1698.0 1480.5 L1698.5 1480.5 L1699.0 1480.5 L1699.5 1480.5 L1700.0 1480.5 L1700.5 1480.5 L1701.0 1480.5 L1701.5 1480.5 L1702.0 1480.5 L1702.5 1480.5 L1703.0 1480.5 L1703.5 1480.5 L1704.0 1480.5 L1704.5 1480.5 L1705.0 1480.5 L1705.5 1480.5 L1706.0 1480.5 L1706.5 1480.5 L1707.0 1480.5 L1707.6 1480.5 L1708.1 1480.5 L1708.6 1480.5 L1709.1 1480.5 L1709.6 1480.5 L1710.1 1480.5 L1710.6 1480.5 L1711.1 1480.5 L1711.6 1480.5 L1712.1 1480.5 L1712.6 1480.6 L1713.1 1480.6 L1713.4 1480.6 M1741.2 1480.6 L1741.5 1480.6 L1742.0 1480.6 L1742.5 1480.6 L1743.0 1480.6 L1743.5 1480.6 L1744.1 1480.6 L1744.6 1480.6 L1745.1 1480.6 L1745.6 1480.6 L1746.1 1480.6 L1746.6 1480.6 L1747.1 1480.6 L1747.7 1480.6 L1748.2 1480.6 L1748.7 1480.6 L1749.2 1480.6 L1749.7 1480.6 L1750.2 1480.6 L1750.7 1480.6 L1751.2 1480.6 L1751.8 1480.6 L1752.3 1480.6 L1752.8 1480.6 L1753.3 1480.6 L1753.8 1480.6 L1754.3 1480.6 L1754.8 1480.6 L1755.3 1480.6 L1755.9 1480.6 L1756.4 1480.6 L1756.9 1480.6 L1757.4 1480.6 L1757.9 1480.6 L1758.4 1480.6 L1758.9 1480.6 L1759.4 1480.6 L1759.9 1480.6 L1760.4 1480.6 L1760.9 1480.6 L1761.4 1480.6 L1761.9 1480.6 L1762.5 1480.6 L1763.0 1480.6 L1763.5 1480.6 L1764.0 1480.6 L1764.5 1480.6 L1765.0 1480.6 L1765.5 1480.6 L1766.0 1480.6 L1766.5 1480.6 L1767.0 1480.6 L1767.5 1480.6 L1768.0 1480.6 L1768.5 1480.6 L1769.0 1480.6 L1769.0 1480.6 M1796.8 1480.5 L1796.8 1480.5 L1797.3 1480.5 L1797.7 1480.5 L1798.2 1480.5 L1798.6 1480.5 L1799.1 1480.5 L1799.5 1480.5 L1800.0 1480.5 L1800.6 1480.5 L1801.1 1480.5 L1801.7 1480.5 L1802.3 1480.5 L1802.8 1480.5 L1803.4 1480.5 L1804.0 1480.5 L1804.5 1480.5 L1805.1 1480.5 L1805.7 1480.5 L1806.3 1480.5 L1806.8 1480.5 L1807.4 1480.5 L1808.0 1480.5 L1808.6 1480.5 L1809.2 1480.5 L1809.8 1480.5 L1810.3 1480.5 L1810.9 1480.5 L1811.5 1480.5 L1812.1 1480.5 L1812.7 1480.5 L1813.3 1480.5 L1813.8 1480.4 L1814.4 1480.4 L1815.0 1480.4 L1815.6 1480.4 L1816.2 1480.4 L1816.8 1480.4 L1817.4 1480.4 L1818.0 1480.4 L1818.6 1480.4 L1819.2 1480.4 L1819.7 1480.4 L1820.3 1480.4 L1820.9 1480.4 L1821.5 1480.4 L1822.1 1480.4 L1822.7 1480.4 L1823.3 1480.4 L1823.9 1480.4 L1824.5 1480.4 L1825.0 1480.4 L1825.6 1480.4 L1826.2 1480.4 L1826.5 1480.4 M1854.4 1480.2 L1854.7 1480.2 L1855.2 1480.2 L1855.7 1480.2 L1856.2 1480.2 L1856.7 1480.2 L1857.2 1480.2 L1857.7 1480.2 L1858.2 1480.2 L1858.7 1480.2 L1859.2 1480.2 L1859.7 1480.2 L1860.2 1480.1 L1860.6 1480.1 L1861.1 1480.1 L1861.6 1480.1 L1862.0 1480.1 L1862.5 1480.1 L1863.0 1480.1 L1863.4 1480.1 L1863.9 1480.1 L1864.3 1480.1 L1864.8 1480.1 L1865.2 1480.1 L1865.7 1480.1 L1866.1 1480.1 L1866.5 1480.1 L1867.0 1480.1 L1867.4 1480.1 L1867.8 1480.1 L1868.2 1480.1 L1868.6 1480.1 L1869.0 1480.1 L1869.4 1480.1 L1869.8 1480.1 L1870.2 1480.1 L1870.6 1480.1 L1871.0 1480.1 L1871.4 1480.1 L1871.8 1480.1 L1872.2 1480.1 L1872.5 1480.1 L1872.9 1480.0 L1873.3 1480.0 L1873.6 1480.0 L1874.0 1480.0 L1874.3 1480.0 L1874.7 1480.0 L1875.0 1480.0 L1875.3 1480.0 L1875.7 1480.0 L1876.0 1480.0 L1876.3 1480.0 L1876.6 1480.0 L1876.9 1480.0 L1877.2 1480.0 L1877.5 1480.0 L1877.8 1480.0 L1878.1 1480.0 L1878.4 1480.0 L1878.7 1480.0 L1879.0 1480.0 L1879.2 1480.0 L1879.5 1480.0 L1879.7 1480.0 L1880.0 1480.0" fill="none" stroke="#c00000" stroke-width="7" stroke-linejoin="round" stroke-linecap="butt"/>
<path d="M237.0 934.0 L241.5 940.0 L242.0 963.0 M250.9 944.5 L258.9 944.5 M262.4 969.0 L275.0 985.0 L287.0 993.0 M291.0 1007.0 L297.0 1020.0 L300.0 1035.0 L303.0 1054.0 M311.0 1037.0 L319.0 1037.0 M320.0 1031.0 L326.0 1026.0 L333.0 999.0 M335.1 971.4 L343.1 971.4 M346.8 950.0 L351.0 928.0 L358.0 918.0 L359.3 894.0 M361.0 866.2 L369.0 866.2 M370.8 857.9 L379.8 818.1 M381.6 789.2 L389.6 789.2 M390.0 764.0 L396.5 738.5 L404.0 716.0 L409.0 707.0 M414.0 686.0 L422.0 686.0 M428.0 665.0 L440.0 645.0 L450.0 632.0 M455.5 631.8 L463.5 631.8 M472.0 612.0 L480.0 625.0 L491.0 630.0 L505.0 621.0 L512.0 635.0 M516.8 641.4 L524.8 641.4 M530.0 638.0 L545.0 620.0 L556.0 605.0 M563.2 590.7 L571.2 590.7 M578.0 570.0 L590.0 545.0 L601.0 533.0 M604.3 506.6 L612.3 506.6 M620.0 495.0 L632.0 470.0 L639.0 462.0 M645.0 440.3 L653.0 440.3 M661.0 420.0 L672.0 405.0 L682.0 395.0 M689.4 382.0 L697.4 382.0 M705.0 370.0 L712.0 360.0 L725.0 360.0 L737.0 362.0 M745.4 361.9 L753.4 361.9 M760.0 368.0 L773.0 380.0 L783.0 393.0 L787.0 405.0 M794.4 422.3 L802.4 422.3 M810.0 450.0 L818.0 462.0 L826.0 480.0 L833.0 491.0 L838.0 515.0 L847.0 519.0 L857.0 545.0 M864.4 574.6 L872.4 574.6 M884.0 592.0 L891.5 608.0 L898.0 624.0 L907.0 636.0 M923.0 649.0 L931.0 649.0 M939.0 666.0 L951.0 677.0 L960.0 688.0 L965.0 705.0 M978.0 717.0 L986.0 717.0 M1002.0 724.0 L1019.0 730.0 L1037.0 743.0 M1050.3 751.0 L1058.3 751.0 M1066.0 759.0 L1103.0 759.0 M1126.0 759.0 L1134.0 759.0 M1150.0 756.0 L1165.0 754.0 L1182.0 757.0 M1196.0 757.0 L1212.0 752.0 L1230.0 748.0 M1243.5 757.0 L1251.5 757.0 M1267.0 756.0 L1281.0 747.0 L1292.0 754.0 L1307.0 744.0 M1323.5 748.5 L1331.5 748.5 M1344.0 743.0 L1364.0 750.0 L1383.0 744.0 M1398.0 742.0 L1406.0 742.0 M1416.0 744.0 L1430.0 742.0 L1445.0 746.0 L1460.0 746.0 M1468.0 742.0 L1476.0 742.0 M1489.0 742.0 L1511.0 740.0 L1532.0 741.0 M1545.5 739.5 L1553.5 739.5 M1566.0 747.0 L1586.0 747.0 M1595.0 743.5 L1603.0 743.5 M1613.5 745.0 L1621.5 745.0 M1635.0 751.0 L1657.0 750.0 L1677.0 752.0 M1690.5 752.0 L1698.5 752.0 M1712.0 750.0 L1735.0 750.0 L1758.0 752.0 M1774.0 754.0 L1790.0 752.0 L1806.0 753.0 M1818.0 755.0 L1826.0 755.0 M1838.0 755.0 L1880.0 757.0" fill="none" stroke="#0000ff" stroke-width="7.6" stroke-linejoin="round" stroke-linecap="butt"/>
<path d="M399.0 760.0 L404.0 745.0 L411.5 726.3 L416.0 715.0 L420.3 700.0 L423.0 691.0 L428.0 674.0 L435.0 669.0 L440.0 648.0 L451.6 630.3 L459.3 616.1 L465.7 600.7 L476.0 599.4 L483.6 587.9 L493.9 590.5 L502.9 589.2 L508.0 576.3 L519.6 572.5 L527.3 558.4 L532.4 545.5 L545.3 540.4 L550.4 522.4 L563.2 513.4 L569.7 498.0 L578.6 491.6 L585.1 478.8 L594.0 473.6 L599.2 460.8 L610.7 455.7 L622.3 451.8 L630.0 440.3 L636.4 433.9 L641.5 445.4 L645.4 459.5 L655.7 472.4 L664.0 478.0 L677.0 500.0 L689.0 525.0 L693.0 541.0 L706.0 560.0 L715.0 582.0 L722.0 603.0 L734.0 620.0 L747.0 636.0 L758.0 660.0 L770.0 672.0 L778.0 675.0 L795.0 697.0 L814.0 714.0 L831.0 721.0 L840.0 724.0 L868.0 733.0 L901.0 734.0 L923.0 744.0 L958.0 750.0 L979.0 761.0 L1014.0 760.0 L1049.0 762.0 L1065.0 769.0 L1090.0 762.0 L1125.0 762.0 L1160.0 762.0 L1220.0 762.0" fill="none" stroke="#000000" stroke-width="8.2" stroke-linejoin="round" stroke-linecap="butt"/>
<path d="M236.5 900.0 L236.5 862.7 L239.3 836.6 L242.1 825.4 L245.9 819.8 L251.5 818.8 L254.3 834.7 L257.1 848.7 L260.8 841.2 L264.5 825.4 L270.1 824.4 L274.8 815.1 L280.4 809.5 L284.2 801.1 L289.8 799.2 L290.7 773.1 L295.4 771.2 L304.8 765.0 L304.8 719.5 L306.9 714.6 L313.9 713.9 L315.3 733.5 L318.1 726.5 L323.0 723.0 L324.4 703.4 L325.8 681.0 L326.5 679.6 L336.3 680.3 L337.7 674.0 L339.8 671.9 L356.6 671.9 L360.1 681.0 L365.0 689.4 L368.5 699.2 L369.2 716.0 L372.0 733.5 L372.7 746.1 L379.0 747.5 L382.5 749.6 L386.0 746.1 L391.0 745.0 L396.0 746.0 L400.0 749.0 L403.0 756.0 L403.5 766.0 L402.0 772.5 L396.0 773.5 L393.0 770.0 L380.0 768.0 L369.2 768.0 L367.8 755.2 L365.0 747.5 L363.6 733.5 L361.5 707.6 L356.6 706.2 L355.2 695.0 L353.1 695.0 L352.4 704.8 L345.4 704.8 L344.0 699.2 L342.6 694.3 L339.8 695.0 L339.8 723.0 L337.0 727.2 L330.0 725.8 L327.9 737.0 L327.2 754.5 L321.6 754.5 L319.5 751.0 L313.2 753.1 L311.8 765.0 L311.2 799.2 L303.8 800.1 L302.8 821.6 L295.4 822.6 L294.4 857.1 L287.9 858.0 L276.7 857.1 L275.8 890.7 L274.8 911.3 L269.2 913.1 L267.3 893.5 L260.8 892.6 L259.9 909.4 L252.4 909.4 L248.7 912.0 L239.3 909.4 Z" fill="#000000" stroke="#000000" stroke-width="1"/>
<path d="M237.0 836.0 L241.0 850.0 L243.0 866.0 M241.0 892.0 L243.0 910.0 L245.0 925.0 L247.0 948.0 M259.0 937.0 L266.0 950.0 L274.0 967.0 M276.0 990.0 L281.0 998.0 L285.0 1007.0 M288.0 1026.0 L292.0 1040.0 L296.0 1054.0 M303.0 1068.0 L309.0 1087.0 L318.0 1101.0 L321.0 1120.0 M331.0 1120.0 L338.7 1100.0 L349.0 1081.0 M356.0 1070.0 L359.0 1052.0 M366.0 1036.0 L370.0 1028.0 L375.0 1016.0 M377.0 996.0 L382.0 983.0 L387.0 971.0 M391.0 942.0 L396.0 925.0 L399.0 916.0 M401.0 895.0 L405.0 882.0 L410.0 867.0 M412.0 841.0 L416.0 830.0 L421.0 821.0 M428.6 798.0 L435.0 786.0 L441.0 777.0 M447.0 758.0 L455.0 766.0 L463.0 762.0 M474.0 758.0 L483.0 765.0 L493.0 762.0 M507.0 765.0 L515.0 756.0 L525.0 763.0 M534.0 752.0 L542.0 758.0 L555.0 748.0 M563.0 740.0 L572.0 736.0 L582.0 733.0 M591.0 720.0 L602.0 715.0 L614.0 711.0 M628.0 703.0 L639.0 698.0 L649.0 702.0 M660.0 703.0 L672.0 699.0 L681.0 703.0 M697.0 712.0 L706.0 706.0 L714.0 720.0 M730.0 724.0 L741.0 730.0 L751.0 727.0 M765.0 735.0 L777.0 742.0 L786.0 744.0 M799.0 748.0 L806.0 751.0 L816.0 749.0 M828.0 753.0 L840.0 751.0 L853.0 752.0 M867.0 751.0 L876.0 747.0 L885.0 740.0 M905.0 742.0 L915.0 737.0 L926.0 733.0 M941.0 733.0 L952.0 730.0 L962.0 724.0 M977.0 727.0 L988.0 720.0 L998.0 716.0 M1017.0 712.0 L1028.0 710.0 L1039.0 712.0 M1054.0 705.0 L1064.0 705.0 L1075.0 705.0 M1089.0 697.0 L1097.0 694.0 L1105.0 690.0 M1117.0 692.0 L1128.0 690.0 L1140.0 688.0 M1158.0 690.0 L1170.0 694.0 L1180.0 688.0 M1199.0 692.0 L1210.0 694.0 L1221.0 699.0 M1233.0 694.0 L1244.0 700.0 L1255.0 704.0 M1275.0 707.0 L1287.0 704.0 L1298.0 706.0 M1320.0 713.0 L1332.0 716.0 L1344.0 721.0 M1360.0 722.0 L1373.0 725.0 L1385.0 726.0 M1405.0 726.0 L1416.0 729.0 L1427.0 733.0 M1448.0 731.0 L1460.0 736.0 L1470.0 736.0 M1491.0 740.0 L1505.0 743.0 L1518.0 744.0 M1543.0 747.0 L1555.0 747.0 L1565.0 747.0 M1590.0 750.0 L1601.0 754.0 L1612.0 755.0 M1636.0 755.0 L1648.0 757.0 L1661.0 756.0 M1683.0 761.0 L1695.0 759.0 L1709.0 763.0 M1728.0 764.0 L1738.0 762.0 L1748.0 764.0 M1769.0 767.0 L1781.0 768.0 L1794.0 767.0 M1816.0 767.0 L1828.0 766.0 L1840.0 767.0 M1859.0 771.0 L1870.0 770.0 L1880.0 769.0" fill="none" stroke="#c00000" stroke-width="7.6" stroke-linejoin="round" stroke-linecap="butt"/>
<text x="143.5" y="77.3" font-family="Liberation Sans, Arial, sans-serif" font-size="77" text-anchor="end">25</text>
<text x="143.5" y="363.3" font-family="Liberation Sans, Arial, sans-serif" font-size="77" text-anchor="end">15</text>
<text x="143.5" y="649.3" font-family="Liberation Sans, Arial, sans-serif" font-size="77" text-anchor="end">5</text>
<text x="143.5" y="935.2" font-family="Liberation Sans, Arial, sans-serif" font-size="77" text-anchor="end">-5</text>
<text x="143.5" y="1221.2" font-family="Liberation Sans, Arial, sans-serif" font-size="77" text-anchor="end">-15</text>
<text x="143.5" y="1507.2" font-family="Liberation Sans, Arial, sans-serif" font-size="77" text-anchor="end">-25</text>
<text x="1958" y="78.3" font-family="Liberation Sans, Arial, sans-serif" font-size="77">250</text>
<text x="1958" y="364.3" font-family="Liberation Sans, Arial, sans-serif" font-size="77">200</text>
<text x="1958" y="650.3" font-family="Liberation Sans, Arial, sans-serif" font-size="77">150</text>
<text x="1958" y="936.2" font-family="Liberation Sans, Arial, sans-serif" font-size="77">100</text>
<text x="1958" y="1222.2" font-family="Liberation Sans, Arial, sans-serif" font-size="77">50</text>
<text x="1958" y="1508.2" font-family="Liberation Sans, Arial, sans-serif" font-size="77">0</text>
<text x="223.5" y="1615.5" font-family="Liberation Sans, Arial, sans-serif" font-size="77" text-anchor="middle">200</text>
<text x="638.1" y="1615.5" font-family="Liberation Sans, Arial, sans-serif" font-size="77" text-anchor="middle">250</text>
<text x="1052.8" y="1615.5" font-family="Liberation Sans, Arial, sans-serif" font-size="77" text-anchor="middle">300</text>
<text x="1467.4" y="1615.5" font-family="Liberation Sans, Arial, sans-serif" font-size="77" text-anchor="middle">350</text>
<text x="1882.0" y="1615.5" font-family="Liberation Sans, Arial, sans-serif" font-size="77" text-anchor="middle">400</text>
<text x="17" y="782" font-family="Liberation Sans, Arial, sans-serif" font-size="72">&#916;&#949;</text>
<text x="1987" y="794" font-family="Liberation Sans, Arial, sans-serif" font-size="76">&#949;</text>
<text x="2038" y="793.5" font-family="Liberation Sans, Arial, sans-serif" font-size="76">x</text>
<text x="2076.5" y="794" font-family="Liberation Sans, Arial, sans-serif" font-size="74">10</text>
<text x="2156" y="771" font-family="Liberation Sans, Arial, sans-serif" font-size="52">-3</text>
<text x="959.5" y="1721.5" font-family="Liberation Sans, Arial, sans-serif" font-size="77">&#955;</text>
<text x="1017.5" y="1719" font-family="Liberation Sans, Arial, sans-serif" font-size="77" font-weight="bold">(nm)</text>
<text x="694" y="310" font-family="Liberation Sans, Arial, sans-serif" font-size="60" font-weight="bold" fill="#0000ff" letter-spacing="-1.5">OMe</text>
<text x="530" y="430" font-family="Liberation Sans, Arial, sans-serif" font-size="60" font-weight="bold" fill="#000">H</text>
<text x="1666" y="387" font-family="Liberation Sans, Arial, sans-serif" font-size="67" font-weight="bold" fill="#0000ff" letter-spacing="-1.5">ECD</text>
<text x="1107" y="645.5" font-family="Liberation Sans, Arial, sans-serif" font-size="61" font-weight="bold" fill="#c00000">NO<tspan font-size="40" dx="-4" dy="10.5">2</tspan></text>
<text x="1670" y="1232" font-family="Liberation Sans, Arial, sans-serif" font-size="69" font-weight="bold" fill="#c00000" letter-spacing="-5">UV</text>
</svg>
</body></html>
